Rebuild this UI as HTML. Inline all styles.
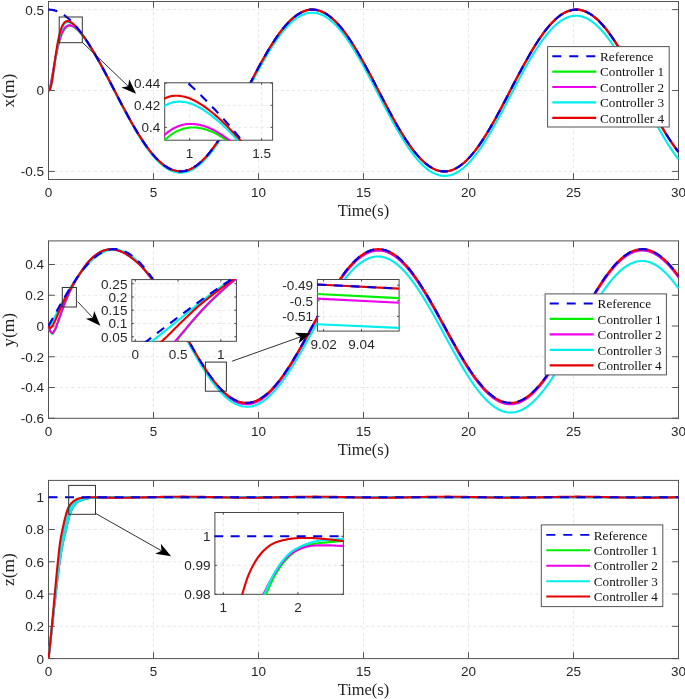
<!DOCTYPE html>
<html><head><meta charset="utf-8"><title>Tracking</title>
<style>
html,body{margin:0;padding:0;background:#fff;}
svg{display:block;}
.tk{font-family:"Liberation Sans",Arial,sans-serif;fill:#262626;}
.ax{font-family:"Liberation Serif","Times New Roman",serif;font-size:16.4px;fill:#222;}
.lg{font-family:"Liberation Serif","Times New Roman",serif;font-size:13.2px;fill:#111;}
</style></head><body>
<svg width="685" height="699" viewBox="0 0 685 699">
<rect width="685" height="699" fill="#fff"/>
<clipPath id="c1"><rect x="48.00" y="1.00" width="631.00" height="179.00"/></clipPath>
<line x1="153.50" y1="179.50" x2="153.50" y2="1.50" stroke="#e2e2e2" stroke-width="0.8" stroke-dasharray="3.2 2.46"/>
<line x1="258.50" y1="179.50" x2="258.50" y2="1.50" stroke="#e2e2e2" stroke-width="0.8" stroke-dasharray="3.2 2.46"/>
<line x1="363.50" y1="179.50" x2="363.50" y2="1.50" stroke="#e2e2e2" stroke-width="0.8" stroke-dasharray="3.2 2.46"/>
<line x1="468.50" y1="179.50" x2="468.50" y2="1.50" stroke="#e2e2e2" stroke-width="0.8" stroke-dasharray="3.2 2.46"/>
<line x1="573.50" y1="179.50" x2="573.50" y2="1.50" stroke="#e2e2e2" stroke-width="0.8" stroke-dasharray="3.2 2.46"/>
<line x1="48.50" y1="171.40" x2="678.50" y2="171.40" stroke="#e2e2e2" stroke-width="0.8" stroke-dasharray="3.2 2.46"/>
<line x1="48.50" y1="90.50" x2="678.50" y2="90.50" stroke="#e2e2e2" stroke-width="0.8" stroke-dasharray="3.2 2.46"/>
<line x1="48.50" y1="9.60" x2="678.50" y2="9.60" stroke="#e2e2e2" stroke-width="0.8" stroke-dasharray="3.2 2.46"/>
<rect x="48.50" y="1.50" width="630.00" height="178.00" fill="none" stroke="#545454" stroke-width="1.00"/>
<line x1="48.50" y1="179.50" x2="48.50" y2="173.20" stroke="#545454" stroke-width="1"/>
<line x1="48.50" y1="1.50" x2="48.50" y2="7.80" stroke="#545454" stroke-width="1"/>
<line x1="153.50" y1="179.50" x2="153.50" y2="173.20" stroke="#545454" stroke-width="1"/>
<line x1="153.50" y1="1.50" x2="153.50" y2="7.80" stroke="#545454" stroke-width="1"/>
<line x1="258.50" y1="179.50" x2="258.50" y2="173.20" stroke="#545454" stroke-width="1"/>
<line x1="258.50" y1="1.50" x2="258.50" y2="7.80" stroke="#545454" stroke-width="1"/>
<line x1="363.50" y1="179.50" x2="363.50" y2="173.20" stroke="#545454" stroke-width="1"/>
<line x1="363.50" y1="1.50" x2="363.50" y2="7.80" stroke="#545454" stroke-width="1"/>
<line x1="468.50" y1="179.50" x2="468.50" y2="173.20" stroke="#545454" stroke-width="1"/>
<line x1="468.50" y1="1.50" x2="468.50" y2="7.80" stroke="#545454" stroke-width="1"/>
<line x1="573.50" y1="179.50" x2="573.50" y2="173.20" stroke="#545454" stroke-width="1"/>
<line x1="573.50" y1="1.50" x2="573.50" y2="7.80" stroke="#545454" stroke-width="1"/>
<line x1="678.50" y1="179.50" x2="678.50" y2="173.20" stroke="#545454" stroke-width="1"/>
<line x1="678.50" y1="1.50" x2="678.50" y2="7.80" stroke="#545454" stroke-width="1"/>
<line x1="48.50" y1="171.40" x2="54.80" y2="171.40" stroke="#545454" stroke-width="1"/>
<line x1="678.50" y1="171.40" x2="672.20" y2="171.40" stroke="#545454" stroke-width="1"/>
<line x1="48.50" y1="90.50" x2="54.80" y2="90.50" stroke="#545454" stroke-width="1"/>
<line x1="678.50" y1="90.50" x2="672.20" y2="90.50" stroke="#545454" stroke-width="1"/>
<line x1="48.50" y1="9.60" x2="54.80" y2="9.60" stroke="#545454" stroke-width="1"/>
<line x1="678.50" y1="9.60" x2="672.20" y2="9.60" stroke="#545454" stroke-width="1"/>
<path d="M48.50,90.50 L49.02,90.09 L49.55,88.97 L50.08,87.29 L50.60,85.18 L51.12,82.74 L51.65,80.06 L52.17,77.21 L52.70,74.27 L53.23,71.27 L53.75,68.27 L54.27,65.29 L54.80,62.37 L55.33,59.53 L55.85,56.78 L56.38,54.14 L56.90,51.62 L57.42,49.23 L57.95,46.96 L58.48,44.83 L59.00,42.83 L59.52,40.96 L60.05,39.22 L60.58,37.61 L61.10,36.13 L61.62,34.76 L62.15,33.52 L62.67,32.38 L63.20,31.36 L63.73,30.43 L64.25,29.61 L64.78,28.88 L65.30,28.24 L65.83,27.68 L66.35,27.21 L66.88,26.81 L67.40,26.48 L67.92,26.22 L68.45,26.02 L68.97,25.89 L69.50,25.81 L70.03,25.79 L70.55,25.82 L71.08,25.89 L71.60,26.01 L72.12,26.17 L72.65,26.38 L73.17,26.62 L73.70,26.89 L74.22,27.20 L74.75,27.55 L75.28,27.92 L75.80,28.32 L76.33,28.75 L76.85,29.20 L77.38,29.68 L77.90,30.18 L78.42,30.70 L78.95,31.25 L79.47,31.81 L80.00,32.39 L80.53,32.99 L81.05,33.61 L81.58,34.24 L82.10,34.89 L82.62,35.55 L83.15,36.23 L83.68,36.92 L84.20,37.63 L84.72,38.35 L85.25,39.08 L85.78,39.82 L86.30,40.57 L86.83,41.34 L87.35,42.11 L87.88,42.90 L88.40,43.69 L88.93,44.49 L89.45,45.31 L89.97,46.13 L90.50,46.96 L91.03,47.80 L91.55,48.65 L92.08,49.50 L92.60,50.36 L93.12,51.23 L93.65,52.11 L94.18,52.99 L94.70,53.88 L95.22,54.78 L95.75,55.68 L96.28,56.59 L96.80,57.51 L97.33,58.43 L97.85,59.36 L98.38,60.29 L98.90,61.22 L99.43,62.16 L99.95,63.11 L100.47,64.06 L101.00,65.02 L101.53,65.98 L102.05,66.94 L102.58,67.91 L103.10,68.88 L103.62,69.85 L104.15,70.83 L104.68,71.81 L105.20,72.79 L105.72,73.78 L106.25,74.77 L106.78,75.76 L107.30,76.76 L107.83,77.75 L108.35,78.75 L108.88,79.75 L109.40,80.76 L109.93,81.76 L110.45,82.77 L110.97,83.77 L111.50,84.78 L113.60,88.82 L115.70,92.86 L117.80,96.90 L119.90,100.92 L122.00,104.92 L124.10,108.88 L126.20,112.80 L128.30,116.65 L130.40,120.45 L132.50,124.17 L134.60,127.80 L136.70,131.34 L138.80,134.78 L140.90,138.11 L143.00,141.32 L145.10,144.40 L147.20,147.35 L149.30,150.16 L151.40,152.81 L153.50,155.31 L155.60,157.65 L157.70,159.82 L159.80,161.82 L161.90,163.64 L164.00,165.28 L166.10,166.73 L168.20,167.98 L170.30,169.05 L172.40,169.92 L174.50,170.59 L176.60,171.06 L178.70,171.33 L180.80,171.40 L182.90,171.26 L185.00,170.93 L187.10,170.39 L189.20,169.65 L191.30,168.71 L193.40,167.58 L195.50,166.26 L197.60,164.75 L199.70,163.05 L201.80,161.17 L203.90,159.11 L206.00,156.88 L208.10,154.49 L210.20,151.94 L212.30,149.23 L214.40,146.37 L216.50,143.38 L218.60,140.25 L220.70,137.00 L222.80,133.64 L224.90,130.16 L227.00,126.59 L229.10,122.92 L231.20,119.18 L233.30,115.36 L235.40,111.48 L237.50,107.55 L239.60,103.58 L241.70,99.57 L243.80,95.54 L245.90,91.50 L248.00,87.46 L250.10,83.42 L252.20,79.40 L254.30,75.41 L256.40,71.46 L258.50,67.55 L260.60,63.70 L262.70,59.92 L264.80,56.22 L266.90,52.60 L269.00,49.07 L271.10,45.65 L273.20,42.34 L275.30,39.15 L277.40,36.09 L279.50,33.17 L281.60,30.39 L283.70,27.76 L285.80,25.28 L287.90,22.97 L290.00,20.83 L292.10,18.86 L294.20,17.07 L296.30,15.47 L298.40,14.05 L300.50,12.82 L302.60,11.79 L304.70,10.95 L306.80,10.32 L308.90,9.88 L311.00,9.64 L313.10,9.61 L315.20,9.78 L317.30,10.15 L319.40,10.72 L321.50,11.49 L323.60,12.46 L325.70,13.63 L327.80,14.98 L329.90,16.53 L332.00,18.26 L334.10,20.17 L336.20,22.25 L338.30,24.51 L340.40,26.93 L342.50,29.51 L344.60,32.24 L346.70,35.12 L348.80,38.14 L350.90,41.28 L353.00,44.55 L355.10,47.94 L357.20,51.43 L359.30,55.02 L361.40,58.70 L363.50,62.46 L365.60,66.28 L367.70,70.17 L369.80,74.11 L371.90,78.09 L374.00,82.10 L376.10,86.14 L378.20,90.18 L380.30,94.22 L382.40,98.26 L384.50,102.27 L386.60,106.26 L388.70,110.20 L390.80,114.10 L392.90,117.94 L395.00,121.71 L397.10,125.40 L399.20,129.00 L401.30,132.51 L403.40,135.91 L405.50,139.20 L407.60,142.37 L409.70,145.41 L411.80,148.31 L413.90,151.07 L416.00,153.67 L418.10,156.12 L420.20,158.40 L422.30,160.51 L424.40,162.45 L426.50,164.21 L428.60,165.78 L430.70,167.17 L432.80,168.37 L434.90,169.36 L437.00,170.17 L439.10,170.77 L441.20,171.17 L443.30,171.38 L445.40,171.37 L447.50,171.17 L449.60,170.77 L451.70,170.16 L453.80,169.36 L455.90,168.36 L458.00,167.16 L460.10,165.77 L462.20,164.20 L464.30,162.44 L466.40,160.50 L468.50,158.38 L470.60,156.10 L472.70,153.65 L474.80,151.04 L476.90,148.28 L479.00,145.38 L481.10,142.34 L483.20,139.17 L485.30,135.88 L487.40,132.48 L489.50,128.97 L491.60,125.37 L493.70,121.67 L495.80,117.90 L497.90,114.07 L500.00,110.17 L502.10,106.22 L504.20,102.24 L506.30,98.22 L508.40,94.19 L510.50,90.14 L512.60,86.10 L514.70,82.07 L516.80,78.06 L518.90,74.08 L521.00,70.14 L523.10,66.25 L525.20,62.42 L527.30,58.67 L529.40,54.99 L531.50,51.40 L533.60,47.91 L535.70,44.53 L537.80,41.26 L539.90,38.11 L542.00,35.09 L544.10,32.22 L546.20,29.49 L548.30,26.91 L550.40,24.49 L552.50,22.23 L554.60,20.15 L556.70,18.24 L558.80,16.51 L560.90,14.97 L563.00,13.61 L565.10,12.45 L567.20,11.49 L569.30,10.72 L571.40,10.15 L573.50,9.78 L575.60,9.61 L577.70,9.65 L579.80,9.88 L581.90,10.32 L584.00,10.96 L586.10,11.80 L588.20,12.83 L590.30,14.06 L592.40,15.48 L594.50,17.09 L596.60,18.88 L598.70,20.85 L600.80,22.99 L602.90,25.30 L605.00,27.78 L607.10,30.41 L609.20,33.19 L611.30,36.12 L613.40,39.18 L615.50,42.37 L617.60,45.68 L619.70,49.10 L621.80,52.63 L623.90,56.25 L626.00,59.95 L628.10,63.74 L630.20,67.59 L632.30,71.49 L634.40,75.45 L636.50,79.44 L638.60,83.46 L640.70,87.49 L642.80,91.54 L644.90,95.58 L647.00,99.61 L649.10,103.62 L651.20,107.59 L653.30,111.52 L655.40,115.40 L657.50,119.21 L659.60,122.96 L661.70,126.62 L663.80,130.19 L665.90,133.67 L668.00,137.03 L670.10,140.28 L672.20,143.41 L674.30,146.40 L676.40,149.25 L678.50,151.96" fill="none" stroke="#00ee00" stroke-width="2.10" stroke-linejoin="round" clip-path="url(#c1)"/>
<path d="M48.50,90.50 L49.02,90.07 L49.55,88.90 L50.08,87.14 L50.60,84.93 L51.12,82.39 L51.65,79.61 L52.17,76.66 L52.70,73.62 L53.23,70.53 L53.75,67.45 L54.27,64.40 L54.80,61.42 L55.33,58.52 L55.85,55.73 L56.38,53.06 L56.90,50.52 L57.42,48.10 L57.95,45.83 L58.48,43.69 L59.00,41.70 L59.52,39.84 L60.05,38.12 L60.58,36.53 L61.10,35.06 L61.62,33.73 L62.15,32.51 L62.67,31.41 L63.20,30.41 L63.73,29.52 L64.25,28.73 L64.78,28.04 L65.30,27.43 L65.83,26.91 L66.35,26.47 L66.88,26.11 L67.40,25.81 L67.92,25.59 L68.45,25.42 L68.97,25.32 L69.50,25.27 L70.03,25.28 L70.55,25.34 L71.08,25.44 L71.60,25.59 L72.12,25.77 L72.65,26.00 L73.17,26.26 L73.70,26.56 L74.22,26.89 L74.75,27.26 L75.28,27.65 L75.80,28.07 L76.33,28.51 L76.85,28.98 L77.38,29.47 L77.90,29.99 L78.42,30.52 L78.95,31.08 L79.47,31.65 L80.00,32.25 L80.53,32.86 L81.05,33.48 L81.58,34.13 L82.10,34.78 L82.62,35.45 L83.15,36.14 L83.68,36.84 L84.20,37.55 L84.72,38.27 L85.25,39.01 L85.78,39.76 L86.30,40.51 L86.83,41.28 L87.35,42.06 L87.88,42.85 L88.40,43.65 L88.93,44.46 L89.45,45.27 L89.97,46.10 L90.50,46.93 L91.03,47.77 L91.55,48.62 L92.08,49.48 L92.60,50.34 L93.12,51.21 L93.65,52.09 L94.18,52.98 L94.70,53.87 L95.22,54.77 L95.75,55.67 L96.28,56.58 L96.80,57.50 L97.33,58.42 L97.85,59.35 L98.38,60.28 L98.90,61.21 L99.43,62.16 L99.95,63.10 L100.47,64.05 L101.00,65.01 L101.53,65.97 L102.05,66.93 L102.58,67.90 L103.10,68.87 L103.62,69.85 L104.15,70.83 L104.68,71.81 L105.20,72.79 L105.72,73.78 L106.25,74.77 L106.78,75.76 L107.30,76.76 L107.83,77.75 L108.35,78.75 L108.88,79.75 L109.40,80.76 L109.93,81.76 L110.45,82.77 L110.97,83.77 L111.50,84.78 L113.60,88.82 L115.70,92.86 L117.80,96.90 L119.90,100.92 L122.00,104.92 L124.10,108.88 L126.20,112.80 L128.30,116.65 L130.40,120.45 L132.50,124.17 L134.60,127.80 L136.70,131.34 L138.80,134.78 L140.90,138.11 L143.00,141.32 L145.10,144.40 L147.20,147.35 L149.30,150.16 L151.40,152.81 L153.50,155.31 L155.60,157.65 L157.70,159.82 L159.80,161.82 L161.90,163.64 L164.00,165.28 L166.10,166.73 L168.20,167.98 L170.30,169.05 L172.40,169.92 L174.50,170.59 L176.60,171.06 L178.70,171.33 L180.80,171.40 L182.90,171.26 L185.00,170.93 L187.10,170.39 L189.20,169.65 L191.30,168.71 L193.40,167.58 L195.50,166.26 L197.60,164.75 L199.70,163.05 L201.80,161.17 L203.90,159.11 L206.00,156.88 L208.10,154.49 L210.20,151.94 L212.30,149.23 L214.40,146.37 L216.50,143.38 L218.60,140.25 L220.70,137.00 L222.80,133.64 L224.90,130.16 L227.00,126.59 L229.10,122.92 L231.20,119.18 L233.30,115.36 L235.40,111.48 L237.50,107.55 L239.60,103.58 L241.70,99.57 L243.80,95.54 L245.90,91.50 L248.00,87.46 L250.10,83.42 L252.20,79.40 L254.30,75.41 L256.40,71.46 L258.50,67.55 L260.60,63.70 L262.70,59.92 L264.80,56.22 L266.90,52.60 L269.00,49.07 L271.10,45.65 L273.20,42.34 L275.30,39.15 L277.40,36.09 L279.50,33.17 L281.60,30.39 L283.70,27.76 L285.80,25.28 L287.90,22.97 L290.00,20.83 L292.10,18.86 L294.20,17.07 L296.30,15.47 L298.40,14.05 L300.50,12.82 L302.60,11.79 L304.70,10.95 L306.80,10.32 L308.90,9.88 L311.00,9.64 L313.10,9.61 L315.20,9.78 L317.30,10.15 L319.40,10.72 L321.50,11.49 L323.60,12.46 L325.70,13.63 L327.80,14.98 L329.90,16.53 L332.00,18.26 L334.10,20.17 L336.20,22.25 L338.30,24.51 L340.40,26.93 L342.50,29.51 L344.60,32.24 L346.70,35.12 L348.80,38.14 L350.90,41.28 L353.00,44.55 L355.10,47.94 L357.20,51.43 L359.30,55.02 L361.40,58.70 L363.50,62.46 L365.60,66.28 L367.70,70.17 L369.80,74.11 L371.90,78.09 L374.00,82.10 L376.10,86.14 L378.20,90.18 L380.30,94.22 L382.40,98.26 L384.50,102.27 L386.60,106.26 L388.70,110.20 L390.80,114.10 L392.90,117.94 L395.00,121.71 L397.10,125.40 L399.20,129.00 L401.30,132.51 L403.40,135.91 L405.50,139.20 L407.60,142.37 L409.70,145.41 L411.80,148.31 L413.90,151.07 L416.00,153.67 L418.10,156.12 L420.20,158.40 L422.30,160.51 L424.40,162.45 L426.50,164.21 L428.60,165.78 L430.70,167.17 L432.80,168.37 L434.90,169.36 L437.00,170.17 L439.10,170.77 L441.20,171.17 L443.30,171.38 L445.40,171.37 L447.50,171.17 L449.60,170.77 L451.70,170.16 L453.80,169.36 L455.90,168.36 L458.00,167.16 L460.10,165.77 L462.20,164.20 L464.30,162.44 L466.40,160.50 L468.50,158.38 L470.60,156.10 L472.70,153.65 L474.80,151.04 L476.90,148.28 L479.00,145.38 L481.10,142.34 L483.20,139.17 L485.30,135.88 L487.40,132.48 L489.50,128.97 L491.60,125.37 L493.70,121.67 L495.80,117.90 L497.90,114.07 L500.00,110.17 L502.10,106.22 L504.20,102.24 L506.30,98.22 L508.40,94.19 L510.50,90.14 L512.60,86.10 L514.70,82.07 L516.80,78.06 L518.90,74.08 L521.00,70.14 L523.10,66.25 L525.20,62.42 L527.30,58.67 L529.40,54.99 L531.50,51.40 L533.60,47.91 L535.70,44.53 L537.80,41.26 L539.90,38.11 L542.00,35.09 L544.10,32.22 L546.20,29.49 L548.30,26.91 L550.40,24.49 L552.50,22.23 L554.60,20.15 L556.70,18.24 L558.80,16.51 L560.90,14.97 L563.00,13.61 L565.10,12.45 L567.20,11.49 L569.30,10.72 L571.40,10.15 L573.50,9.78 L575.60,9.61 L577.70,9.65 L579.80,9.88 L581.90,10.32 L584.00,10.96 L586.10,11.80 L588.20,12.83 L590.30,14.06 L592.40,15.48 L594.50,17.09 L596.60,18.88 L598.70,20.85 L600.80,22.99 L602.90,25.30 L605.00,27.78 L607.10,30.41 L609.20,33.19 L611.30,36.12 L613.40,39.18 L615.50,42.37 L617.60,45.68 L619.70,49.10 L621.80,52.63 L623.90,56.25 L626.00,59.95 L628.10,63.74 L630.20,67.59 L632.30,71.49 L634.40,75.45 L636.50,79.44 L638.60,83.46 L640.70,87.49 L642.80,91.54 L644.90,95.58 L647.00,99.61 L649.10,103.62 L651.20,107.59 L653.30,111.52 L655.40,115.40 L657.50,119.21 L659.60,122.96 L661.70,126.62 L663.80,130.19 L665.90,133.67 L668.00,137.03 L670.10,140.28 L672.20,143.41 L674.30,146.40 L676.40,149.25 L678.50,151.96" fill="none" stroke="#ee00ee" stroke-width="2.10" stroke-linejoin="round" clip-path="url(#c1)"/>
<path d="M48.50,90.50 L49.02,90.45 L49.55,90.10 L50.08,89.28 L50.60,87.91 L51.12,86.01 L51.65,83.62 L52.17,80.82 L52.70,77.68 L53.23,74.30 L53.75,70.75 L54.27,67.12 L54.80,63.47 L55.33,59.86 L55.85,56.33 L56.38,52.93 L56.90,49.68 L57.42,46.61 L57.95,43.73 L58.48,41.05 L59.00,38.58 L59.52,36.31 L60.05,34.24 L60.58,32.38 L61.10,30.70 L61.62,29.21 L62.15,27.89 L62.67,26.73 L63.20,25.73 L63.73,24.87 L64.25,24.14 L64.78,23.54 L65.30,23.05 L65.83,22.66 L66.35,22.37 L66.88,22.17 L67.40,22.05 L67.92,22.00 L68.45,22.03 L68.97,22.11 L69.50,22.25 L70.03,22.44 L70.55,22.67 L71.08,22.95 L71.60,23.27 L72.12,23.63 L72.65,24.02 L73.17,24.44 L73.70,24.88 L74.22,25.36 L74.75,25.85 L75.28,26.37 L75.80,26.91 L76.33,27.47 L76.85,28.05 L77.38,28.64 L77.90,29.25 L78.42,29.87 L78.95,30.51 L79.47,31.17 L80.00,31.83 L80.53,32.51 L81.05,33.20 L81.58,33.90 L82.10,34.61 L82.62,35.34 L83.15,36.07 L83.68,36.81 L84.20,37.57 L84.72,38.33 L85.25,39.10 L85.78,39.88 L86.30,40.67 L86.83,41.47 L87.35,42.27 L87.88,43.09 L88.40,43.91 L88.93,44.74 L89.45,45.57 L89.97,46.42 L90.50,47.27 L91.03,48.13 L91.55,48.99 L92.08,49.86 L92.60,50.74 L93.12,51.63 L93.65,52.52 L94.18,53.42 L94.70,54.32 L95.22,55.23 L95.75,56.14 L96.28,57.06 L96.80,57.99 L97.33,58.92 L97.85,59.85 L98.38,60.79 L98.90,61.74 L99.43,62.69 L99.95,63.64 L100.47,64.60 L101.00,65.56 L101.53,66.53 L102.05,67.50 L102.58,68.47 L103.10,69.45 L103.62,70.43 L104.15,71.41 L104.68,72.40 L105.20,73.39 L105.72,74.38 L106.25,75.38 L106.78,76.38 L107.30,77.38 L107.83,78.38 L108.35,79.38 L108.88,80.39 L109.40,81.40 L109.93,82.41 L110.45,83.42 L110.97,84.43 L111.50,85.44 L113.60,89.50 L115.70,93.56 L117.80,97.62 L119.90,101.66 L122.00,105.67 L124.10,109.65 L126.20,113.58 L128.30,117.46 L130.40,121.27 L132.50,125.01 L134.60,128.66 L136.70,132.22 L138.80,135.68 L140.90,139.03 L143.00,142.25 L145.10,145.35 L147.20,148.32 L149.30,151.14 L151.40,153.82 L153.50,156.34 L155.60,158.70 L157.70,160.89 L159.80,162.91 L161.90,164.75 L164.00,166.40 L166.10,167.87 L168.20,169.15 L170.30,170.24 L172.40,171.13 L174.50,171.82 L176.60,172.31 L178.70,172.61 L180.80,172.70 L182.90,172.58 L185.00,172.27 L187.10,171.76 L189.20,171.04 L191.30,170.13 L193.40,169.03 L195.50,167.73 L197.60,166.24 L199.70,164.57 L201.80,162.72 L203.90,160.69 L206.00,158.49 L208.10,156.12 L210.20,153.59 L212.30,150.91 L214.40,148.09 L216.50,145.12 L218.60,142.02 L220.70,138.80 L222.80,135.46 L224.90,132.02 L227.00,128.48 L229.10,124.84 L231.20,121.13 L233.30,117.34 L235.40,113.49 L237.50,109.59 L239.60,105.65 L241.70,101.67 L243.80,97.67 L245.90,93.66 L248.00,89.64 L250.10,85.64 L252.20,81.65 L254.30,77.69 L256.40,73.77 L258.50,69.89 L260.60,66.07 L262.70,62.32 L264.80,58.65 L266.90,55.06 L269.00,51.56 L271.10,48.17 L273.20,44.89 L275.30,41.73 L277.40,38.70 L279.50,35.81 L281.60,33.06 L283.70,30.45 L285.80,28.01 L287.90,25.73 L290.00,23.61 L292.10,21.67 L294.20,19.91 L296.30,18.34 L298.40,16.95 L300.50,15.75 L302.60,14.74 L304.70,13.93 L306.80,13.32 L308.90,12.91 L311.00,12.70 L313.10,12.69 L315.20,12.89 L317.30,13.28 L319.40,13.88 L321.50,14.68 L323.60,15.67 L325.70,16.86 L327.80,18.24 L329.90,19.81 L332.00,21.56 L334.10,23.49 L336.20,25.60 L338.30,27.88 L340.40,30.33 L342.50,32.93 L344.60,35.69 L346.70,38.59 L348.80,41.63 L350.90,44.80 L353.00,48.09 L355.10,51.50 L357.20,55.02 L359.30,58.63 L361.40,62.33 L363.50,66.11 L365.60,69.96 L367.70,73.87 L369.80,77.83 L371.90,81.83 L374.00,85.87 L376.10,89.92 L378.20,93.99 L380.30,98.05 L382.40,102.11 L384.50,106.15 L386.60,110.15 L388.70,114.12 L390.80,118.04 L392.90,121.90 L395.00,125.69 L397.10,129.41 L399.20,133.03 L401.30,136.56 L403.40,139.99 L405.50,143.30 L407.60,146.49 L409.70,149.55 L411.80,152.48 L413.90,155.25 L416.00,157.88 L418.10,160.35 L420.20,162.66 L422.30,164.79 L424.40,166.76 L426.50,168.54 L428.60,170.14 L430.70,171.55 L432.80,172.76 L434.90,173.79 L437.00,174.61 L439.10,175.24 L441.20,175.67 L443.30,175.89 L445.40,175.92 L447.50,175.74 L449.60,175.36 L451.70,174.78 L453.80,174.00 L455.90,173.02 L458.00,171.85 L460.10,170.49 L462.20,168.94 L464.30,167.20 L466.40,165.29 L468.50,163.20 L470.60,160.94 L472.70,158.52 L474.80,155.94 L476.90,153.21 L479.00,150.33 L481.10,147.32 L483.20,144.18 L485.30,140.91 L487.40,137.53 L489.50,134.05 L491.60,130.47 L493.70,126.81 L495.80,123.06 L497.90,119.25 L500.00,115.38 L502.10,111.46 L504.20,107.50 L506.30,103.51 L508.40,99.51 L510.50,95.49 L512.60,91.47 L514.70,87.47 L516.80,83.48 L518.90,79.53 L521.00,75.62 L523.10,71.76 L525.20,67.96 L527.30,64.23 L529.40,60.58 L531.50,57.01 L533.60,53.55 L535.70,50.19 L537.80,46.95 L539.90,43.83 L542.00,40.84 L544.10,37.99 L546.20,35.28 L548.30,32.73 L550.40,30.33 L552.50,28.10 L554.60,26.05 L556.70,24.16 L558.80,22.46 L560.90,20.94 L563.00,19.61 L565.10,18.48 L567.20,17.54 L569.30,16.79 L571.40,16.25 L573.50,15.90 L575.60,15.76 L577.70,15.82 L579.80,16.08 L581.90,16.54 L584.00,17.21 L586.10,18.07 L588.20,19.13 L590.30,20.38 L592.40,21.82 L594.50,23.45 L596.60,25.27 L598.70,27.26 L600.80,29.43 L602.90,31.76 L605.00,34.26 L607.10,36.92 L609.20,39.73 L611.30,42.67 L613.40,45.76 L615.50,48.97 L617.60,52.31 L619.70,55.75 L621.80,59.30 L623.90,62.94 L626.00,66.67 L628.10,70.48 L630.20,74.35 L632.30,78.28 L634.40,82.26 L636.50,86.27 L638.60,90.31 L640.70,94.37 L642.80,98.44 L644.90,102.50 L647.00,106.56 L649.10,110.58 L651.20,114.58 L653.30,118.53 L655.40,122.43 L657.50,126.27 L659.60,130.04 L661.70,133.72 L663.80,137.32 L665.90,140.82 L668.00,144.20 L670.10,147.48 L672.20,150.62 L674.30,153.64 L676.40,156.51 L678.50,159.24" fill="none" stroke="#00eeee" stroke-width="2.10" stroke-linejoin="round" clip-path="url(#c1)"/>
<path d="M48.50,90.50 L49.02,90.44 L49.55,90.04 L50.08,89.12 L50.60,87.62 L51.12,85.54 L51.65,82.95 L52.17,79.92 L52.70,76.57 L53.23,72.97 L53.75,69.23 L54.27,65.42 L54.80,61.62 L55.33,57.89 L55.85,54.27 L56.38,50.80 L56.90,47.52 L57.42,44.43 L57.95,41.55 L58.48,38.90 L59.00,36.46 L59.52,34.25 L60.05,32.25 L60.58,30.45 L61.10,28.86 L61.62,27.45 L62.15,26.21 L62.67,25.14 L63.20,24.23 L63.73,23.45 L64.25,22.81 L64.78,22.28 L65.30,21.87 L65.83,21.56 L66.35,21.34 L66.88,21.20 L67.40,21.14 L67.92,21.15 L68.45,21.22 L68.97,21.35 L69.50,21.53 L70.03,21.76 L70.55,22.04 L71.08,22.35 L71.60,22.69 L72.12,23.08 L72.65,23.49 L73.17,23.93 L73.70,24.39 L74.22,24.88 L74.75,25.39 L75.28,25.92 L75.80,26.47 L76.33,27.03 L76.85,27.62 L77.38,28.22 L77.90,28.83 L78.42,29.46 L78.95,30.10 L79.47,30.75 L80.00,31.42 L80.53,32.10 L81.05,32.79 L81.58,33.49 L82.10,34.20 L82.62,34.92 L83.15,35.65 L83.68,36.39 L84.20,37.14 L84.72,37.90 L85.25,38.67 L85.78,39.44 L86.30,40.23 L86.83,41.02 L87.35,41.82 L87.88,42.63 L88.40,43.45 L88.93,44.28 L89.45,45.11 L89.97,45.95 L90.50,46.79 L91.03,47.65 L91.55,48.51 L92.08,49.38 L92.60,50.25 L93.12,51.13 L93.65,52.02 L94.18,52.91 L94.70,53.81 L95.22,54.71 L95.75,55.62 L96.28,56.53 L96.80,57.45 L97.33,58.38 L97.85,59.31 L98.38,60.25 L98.90,61.19 L99.43,62.13 L99.95,63.08 L100.47,64.03 L101.00,64.99 L101.53,65.95 L102.05,66.92 L102.58,67.89 L103.10,68.86 L103.62,69.84 L104.15,70.81 L104.68,71.80 L105.20,72.78 L105.72,73.77 L106.25,74.76 L106.78,75.75 L107.30,76.75 L107.83,77.75 L108.35,78.75 L108.88,79.75 L109.40,80.75 L109.93,81.76 L110.45,82.76 L110.97,83.77 L111.50,84.78 L113.60,88.82 L115.70,92.86 L117.80,96.90 L119.90,100.92 L122.00,104.92 L124.10,108.88 L126.20,112.80 L128.30,116.65 L130.40,120.45 L132.50,124.17 L134.60,127.80 L136.70,131.34 L138.80,134.78 L140.90,138.11 L143.00,141.32 L145.10,144.40 L147.20,147.35 L149.30,150.16 L151.40,152.81 L153.50,155.31 L155.60,157.65 L157.70,159.82 L159.80,161.82 L161.90,163.64 L164.00,165.28 L166.10,166.73 L168.20,167.98 L170.30,169.05 L172.40,169.92 L174.50,170.59 L176.60,171.06 L178.70,171.33 L180.80,171.40 L182.90,171.26 L185.00,170.93 L187.10,170.39 L189.20,169.65 L191.30,168.71 L193.40,167.58 L195.50,166.26 L197.60,164.75 L199.70,163.05 L201.80,161.17 L203.90,159.11 L206.00,156.88 L208.10,154.49 L210.20,151.94 L212.30,149.23 L214.40,146.37 L216.50,143.38 L218.60,140.25 L220.70,137.00 L222.80,133.64 L224.90,130.16 L227.00,126.59 L229.10,122.92 L231.20,119.18 L233.30,115.36 L235.40,111.48 L237.50,107.55 L239.60,103.58 L241.70,99.57 L243.80,95.54 L245.90,91.50 L248.00,87.46 L250.10,83.42 L252.20,79.40 L254.30,75.41 L256.40,71.46 L258.50,67.55 L260.60,63.70 L262.70,59.92 L264.80,56.22 L266.90,52.60 L269.00,49.07 L271.10,45.65 L273.20,42.34 L275.30,39.15 L277.40,36.09 L279.50,33.17 L281.60,30.39 L283.70,27.76 L285.80,25.28 L287.90,22.97 L290.00,20.83 L292.10,18.86 L294.20,17.07 L296.30,15.47 L298.40,14.05 L300.50,12.82 L302.60,11.79 L304.70,10.95 L306.80,10.32 L308.90,9.88 L311.00,9.64 L313.10,9.61 L315.20,9.78 L317.30,10.15 L319.40,10.72 L321.50,11.49 L323.60,12.46 L325.70,13.63 L327.80,14.98 L329.90,16.53 L332.00,18.26 L334.10,20.17 L336.20,22.25 L338.30,24.51 L340.40,26.93 L342.50,29.51 L344.60,32.24 L346.70,35.12 L348.80,38.14 L350.90,41.28 L353.00,44.55 L355.10,47.94 L357.20,51.43 L359.30,55.02 L361.40,58.70 L363.50,62.46 L365.60,66.28 L367.70,70.17 L369.80,74.11 L371.90,78.09 L374.00,82.10 L376.10,86.14 L378.20,90.18 L380.30,94.22 L382.40,98.26 L384.50,102.27 L386.60,106.26 L388.70,110.20 L390.80,114.10 L392.90,117.94 L395.00,121.71 L397.10,125.40 L399.20,129.00 L401.30,132.51 L403.40,135.91 L405.50,139.20 L407.60,142.37 L409.70,145.41 L411.80,148.31 L413.90,151.07 L416.00,153.67 L418.10,156.12 L420.20,158.40 L422.30,160.51 L424.40,162.45 L426.50,164.21 L428.60,165.78 L430.70,167.17 L432.80,168.37 L434.90,169.36 L437.00,170.17 L439.10,170.77 L441.20,171.17 L443.30,171.38 L445.40,171.37 L447.50,171.17 L449.60,170.77 L451.70,170.16 L453.80,169.36 L455.90,168.36 L458.00,167.16 L460.10,165.77 L462.20,164.20 L464.30,162.44 L466.40,160.50 L468.50,158.38 L470.60,156.10 L472.70,153.65 L474.80,151.04 L476.90,148.28 L479.00,145.38 L481.10,142.34 L483.20,139.17 L485.30,135.88 L487.40,132.48 L489.50,128.97 L491.60,125.37 L493.70,121.67 L495.80,117.90 L497.90,114.07 L500.00,110.17 L502.10,106.22 L504.20,102.24 L506.30,98.22 L508.40,94.19 L510.50,90.14 L512.60,86.10 L514.70,82.07 L516.80,78.06 L518.90,74.08 L521.00,70.14 L523.10,66.25 L525.20,62.42 L527.30,58.67 L529.40,54.99 L531.50,51.40 L533.60,47.91 L535.70,44.53 L537.80,41.26 L539.90,38.11 L542.00,35.09 L544.10,32.22 L546.20,29.49 L548.30,26.91 L550.40,24.49 L552.50,22.23 L554.60,20.15 L556.70,18.24 L558.80,16.51 L560.90,14.97 L563.00,13.61 L565.10,12.45 L567.20,11.49 L569.30,10.72 L571.40,10.15 L573.50,9.78 L575.60,9.61 L577.70,9.65 L579.80,9.88 L581.90,10.32 L584.00,10.96 L586.10,11.80 L588.20,12.83 L590.30,14.06 L592.40,15.48 L594.50,17.09 L596.60,18.88 L598.70,20.85 L600.80,22.99 L602.90,25.30 L605.00,27.78 L607.10,30.41 L609.20,33.19 L611.30,36.12 L613.40,39.18 L615.50,42.37 L617.60,45.68 L619.70,49.10 L621.80,52.63 L623.90,56.25 L626.00,59.95 L628.10,63.74 L630.20,67.59 L632.30,71.49 L634.40,75.45 L636.50,79.44 L638.60,83.46 L640.70,87.49 L642.80,91.54 L644.90,95.58 L647.00,99.61 L649.10,103.62 L651.20,107.59 L653.30,111.52 L655.40,115.40 L657.50,119.21 L659.60,122.96 L661.70,126.62 L663.80,130.19 L665.90,133.67 L668.00,137.03 L670.10,140.28 L672.20,143.41 L674.30,146.40 L676.40,149.25 L678.50,151.96" fill="none" stroke="#e60000" stroke-width="2.10" stroke-linejoin="round" clip-path="url(#c1)"/>
<path d="M48.50,9.60 L49.02,9.61 L49.55,9.63 L50.08,9.66 L50.60,9.70 L51.12,9.76 L51.65,9.83 L52.17,9.91 L52.70,10.00 L53.23,10.11 L53.75,10.23 L54.27,10.36 L54.80,10.51 L55.33,10.67 L55.85,10.84 L56.38,11.02 L56.90,11.21 L57.42,11.42 L57.95,11.64 L58.48,11.87 L59.00,12.11 L59.52,12.37 L60.05,12.64 L60.58,12.92 L61.10,13.21 L61.62,13.52 L62.15,13.84 L62.67,14.16 L63.20,14.50 L63.73,14.86 L64.25,15.22 L64.78,15.60 L65.30,15.99 L65.83,16.39 L66.35,16.80 L66.88,17.22 L67.40,17.65 L67.92,18.10 L68.45,18.56 L68.97,19.02 L69.50,19.50 L70.03,19.99 L70.55,20.50 L71.08,21.01 L71.60,21.53 L72.12,22.06 L72.65,22.61 L73.17,23.16 L73.70,23.73 L74.22,24.31 L74.75,24.89 L75.28,25.49 L75.80,26.10 L76.33,26.71 L76.85,27.34 L77.38,27.98 L77.90,28.62 L78.42,29.28 L78.95,29.95 L79.47,30.62 L80.00,31.31 L80.53,32.00 L81.05,32.70 L81.58,33.42 L82.10,34.14 L82.62,34.87 L83.15,35.60 L83.68,36.35 L84.20,37.11 L84.72,37.87 L85.25,38.64 L85.78,39.42 L86.30,40.21 L86.83,41.01 L87.35,41.81 L87.88,42.62 L88.40,43.44 L88.93,44.27 L89.45,45.10 L89.97,45.94 L90.50,46.79 L91.03,47.64 L91.55,48.50 L92.08,49.37 L92.60,50.25 L93.12,51.13 L93.65,52.01 L94.18,52.91 L94.70,53.80 L95.22,54.71 L95.75,55.62 L96.28,56.53 L96.80,57.45 L97.33,58.38 L97.85,59.31 L98.38,60.25 L98.90,61.19 L99.43,62.13 L99.95,63.08 L100.47,64.03 L101.00,64.99 L101.53,65.95 L102.05,66.92 L102.58,67.89 L103.10,68.86 L103.62,69.84 L104.15,70.81 L104.68,71.80 L105.20,72.78 L105.72,73.77 L106.25,74.76 L106.78,75.75 L107.30,76.75 L107.83,77.75 L108.35,78.75 L108.88,79.75 L109.40,80.75 L109.93,81.76 L110.45,82.76 L110.97,83.77 L111.50,84.78 L113.60,88.82 L115.70,92.86 L117.80,96.90 L119.90,100.92 L122.00,104.92 L124.10,108.88 L126.20,112.80 L128.30,116.65 L130.40,120.45 L132.50,124.17 L134.60,127.80 L136.70,131.34 L138.80,134.78 L140.90,138.11 L143.00,141.32 L145.10,144.40 L147.20,147.35 L149.30,150.16 L151.40,152.81 L153.50,155.31 L155.60,157.65 L157.70,159.82 L159.80,161.82 L161.90,163.64 L164.00,165.28 L166.10,166.73 L168.20,167.98 L170.30,169.05 L172.40,169.92 L174.50,170.59 L176.60,171.06 L178.70,171.33 L180.80,171.40 L182.90,171.26 L185.00,170.93 L187.10,170.39 L189.20,169.65 L191.30,168.71 L193.40,167.58 L195.50,166.26 L197.60,164.75 L199.70,163.05 L201.80,161.17 L203.90,159.11 L206.00,156.88 L208.10,154.49 L210.20,151.94 L212.30,149.23 L214.40,146.37 L216.50,143.38 L218.60,140.25 L220.70,137.00 L222.80,133.64 L224.90,130.16 L227.00,126.59 L229.10,122.92 L231.20,119.18 L233.30,115.36 L235.40,111.48 L237.50,107.55 L239.60,103.58 L241.70,99.57 L243.80,95.54 L245.90,91.50 L248.00,87.46 L250.10,83.42 L252.20,79.40 L254.30,75.41 L256.40,71.46 L258.50,67.55 L260.60,63.70 L262.70,59.92 L264.80,56.22 L266.90,52.60 L269.00,49.07 L271.10,45.65 L273.20,42.34 L275.30,39.15 L277.40,36.09 L279.50,33.17 L281.60,30.39 L283.70,27.76 L285.80,25.28 L287.90,22.97 L290.00,20.83 L292.10,18.86 L294.20,17.07 L296.30,15.47 L298.40,14.05 L300.50,12.82 L302.60,11.79 L304.70,10.95 L306.80,10.32 L308.90,9.88 L311.00,9.64 L313.10,9.61 L315.20,9.78 L317.30,10.15 L319.40,10.72 L321.50,11.49 L323.60,12.46 L325.70,13.63 L327.80,14.98 L329.90,16.53 L332.00,18.26 L334.10,20.17 L336.20,22.25 L338.30,24.51 L340.40,26.93 L342.50,29.51 L344.60,32.24 L346.70,35.12 L348.80,38.14 L350.90,41.28 L353.00,44.55 L355.10,47.94 L357.20,51.43 L359.30,55.02 L361.40,58.70 L363.50,62.46 L365.60,66.28 L367.70,70.17 L369.80,74.11 L371.90,78.09 L374.00,82.10 L376.10,86.14 L378.20,90.18 L380.30,94.22 L382.40,98.26 L384.50,102.27 L386.60,106.26 L388.70,110.20 L390.80,114.10 L392.90,117.94 L395.00,121.71 L397.10,125.40 L399.20,129.00 L401.30,132.51 L403.40,135.91 L405.50,139.20 L407.60,142.37 L409.70,145.41 L411.80,148.31 L413.90,151.07 L416.00,153.67 L418.10,156.12 L420.20,158.40 L422.30,160.51 L424.40,162.45 L426.50,164.21 L428.60,165.78 L430.70,167.17 L432.80,168.37 L434.90,169.36 L437.00,170.17 L439.10,170.77 L441.20,171.17 L443.30,171.38 L445.40,171.37 L447.50,171.17 L449.60,170.77 L451.70,170.16 L453.80,169.36 L455.90,168.36 L458.00,167.16 L460.10,165.77 L462.20,164.20 L464.30,162.44 L466.40,160.50 L468.50,158.38 L470.60,156.10 L472.70,153.65 L474.80,151.04 L476.90,148.28 L479.00,145.38 L481.10,142.34 L483.20,139.17 L485.30,135.88 L487.40,132.48 L489.50,128.97 L491.60,125.37 L493.70,121.67 L495.80,117.90 L497.90,114.07 L500.00,110.17 L502.10,106.22 L504.20,102.24 L506.30,98.22 L508.40,94.19 L510.50,90.14 L512.60,86.10 L514.70,82.07 L516.80,78.06 L518.90,74.08 L521.00,70.14 L523.10,66.25 L525.20,62.42 L527.30,58.67 L529.40,54.99 L531.50,51.40 L533.60,47.91 L535.70,44.53 L537.80,41.26 L539.90,38.11 L542.00,35.09 L544.10,32.22 L546.20,29.49 L548.30,26.91 L550.40,24.49 L552.50,22.23 L554.60,20.15 L556.70,18.24 L558.80,16.51 L560.90,14.97 L563.00,13.61 L565.10,12.45 L567.20,11.49 L569.30,10.72 L571.40,10.15 L573.50,9.78 L575.60,9.61 L577.70,9.65 L579.80,9.88 L581.90,10.32 L584.00,10.96 L586.10,11.80 L588.20,12.83 L590.30,14.06 L592.40,15.48 L594.50,17.09 L596.60,18.88 L598.70,20.85 L600.80,22.99 L602.90,25.30 L605.00,27.78 L607.10,30.41 L609.20,33.19 L611.30,36.12 L613.40,39.18 L615.50,42.37 L617.60,45.68 L619.70,49.10 L621.80,52.63 L623.90,56.25 L626.00,59.95 L628.10,63.74 L630.20,67.59 L632.30,71.49 L634.40,75.45 L636.50,79.44 L638.60,83.46 L640.70,87.49 L642.80,91.54 L644.90,95.58 L647.00,99.61 L649.10,103.62 L651.20,107.59 L653.30,111.52 L655.40,115.40 L657.50,119.21 L659.60,122.96 L661.70,126.62 L663.80,130.19 L665.90,133.67 L668.00,137.03 L670.10,140.28 L672.20,143.41 L674.30,146.40 L676.40,149.25 L678.50,151.96" fill="none" stroke="#0000e6" stroke-width="2.10" stroke-linejoin="round" clip-path="url(#c1)" stroke-dasharray="9 7.5"/>
<text class="tk" x="48.50" y="196.80" text-anchor="middle" font-size="13.5">0</text>
<text class="tk" x="153.50" y="196.80" text-anchor="middle" font-size="13.5">5</text>
<text class="tk" x="258.50" y="196.80" text-anchor="middle" font-size="13.5">10</text>
<text class="tk" x="363.50" y="196.80" text-anchor="middle" font-size="13.5">15</text>
<text class="tk" x="468.50" y="196.80" text-anchor="middle" font-size="13.5">20</text>
<text class="tk" x="573.50" y="196.80" text-anchor="middle" font-size="13.5">25</text>
<text class="tk" x="678.50" y="196.80" text-anchor="middle" font-size="13.5">30</text>
<text class="tk" x="44.10" y="176.30" text-anchor="end" font-size="13.5">-0.5</text>
<text class="tk" x="44.10" y="95.40" text-anchor="end" font-size="13.5">0</text>
<text class="tk" x="44.10" y="14.50" text-anchor="end" font-size="13.5">0.5</text>
<text class="ax" x="363.50" y="215.90" text-anchor="middle">Time(s)</text>
<text class="ax" style="font-size:17.4px" transform="translate(13.90,90.50) rotate(-90)" text-anchor="middle">x(m)</text>
<rect x="59.20" y="17.00" width="23.10" height="25.70" fill="none" stroke="#333" stroke-width="1"/>
<line x1="82.70" y1="42.70" x2="128.15" y2="86.19" stroke="#1a1a1a" stroke-width="0.9"/>
<path d="M136.10,93.80 L121.32,87.55 L128.15,86.19 L129.20,79.31 Z" fill="#000"/>
<clipPath id="i1"><rect x="164.20" y="82.30" width="108.90" height="58.40"/></clipPath>
<rect x="164.70" y="82.80" width="107.90" height="57.40" fill="#fff"/>
<line x1="189.60" y1="140.20" x2="189.60" y2="82.80" stroke="#e2e2e2" stroke-width="0.8" stroke-dasharray="3.2 2.46"/>
<line x1="261.60" y1="140.20" x2="261.60" y2="82.80" stroke="#e2e2e2" stroke-width="0.8" stroke-dasharray="3.2 2.46"/>
<line x1="164.70" y1="127.40" x2="272.60" y2="127.40" stroke="#e2e2e2" stroke-width="0.8" stroke-dasharray="3.2 2.46"/>
<line x1="164.70" y1="105.30" x2="272.60" y2="105.30" stroke="#e2e2e2" stroke-width="0.8" stroke-dasharray="3.2 2.46"/>
<rect x="164.70" y="82.80" width="107.90" height="57.40" fill="none" stroke="#484848" stroke-width="1.00"/>
<line x1="189.60" y1="140.20" x2="189.60" y2="138.20" stroke="#484848" stroke-width="1"/>
<line x1="189.60" y1="82.80" x2="189.60" y2="84.80" stroke="#484848" stroke-width="1"/>
<line x1="261.60" y1="140.20" x2="261.60" y2="138.20" stroke="#484848" stroke-width="1"/>
<line x1="261.60" y1="82.80" x2="261.60" y2="84.80" stroke="#484848" stroke-width="1"/>
<line x1="164.70" y1="127.40" x2="166.70" y2="127.40" stroke="#484848" stroke-width="1"/>
<line x1="272.60" y1="127.40" x2="270.60" y2="127.40" stroke="#484848" stroke-width="1"/>
<line x1="164.70" y1="105.30" x2="166.70" y2="105.30" stroke="#484848" stroke-width="1"/>
<line x1="272.60" y1="105.30" x2="270.60" y2="105.30" stroke="#484848" stroke-width="1"/>
<line x1="164.70" y1="83.20" x2="166.70" y2="83.20" stroke="#484848" stroke-width="1"/>
<line x1="272.60" y1="83.20" x2="270.60" y2="83.20" stroke="#484848" stroke-width="1"/>
<path d="M163.26,141.53 L164.50,140.29 L165.75,139.11 L166.99,138.00 L168.24,136.95 L169.48,135.96 L170.73,135.03 L171.97,134.16 L173.22,133.35 L174.46,132.60 L175.71,131.90 L176.95,131.26 L178.20,130.67 L179.44,130.13 L180.69,129.65 L181.93,129.22 L183.18,128.84 L184.42,128.50 L185.66,128.22 L186.91,127.98 L188.15,127.79 L189.40,127.64 L190.64,127.53 L191.89,127.47 L193.13,127.46 L194.38,127.48 L195.62,127.54 L196.87,127.65 L198.11,127.79 L199.36,127.97 L200.60,128.19 L201.85,128.45 L203.09,128.74 L204.34,129.07 L205.58,129.43 L206.83,129.82 L208.07,130.25 L209.31,130.71 L210.56,131.21 L211.80,131.73 L213.05,132.28 L214.29,132.87 L215.54,133.48 L216.78,134.13 L218.03,134.80 L219.27,135.50 L220.52,136.23 L221.76,136.98 L223.01,137.76 L224.25,138.56 L225.50,139.39 L226.74,140.25 L227.99,141.13 L229.23,142.03 L230.47,142.95 L231.72,143.90 L232.96,144.87 L234.21,145.87 L235.45,146.88 L236.70,147.92 L237.94,148.97 L239.19,150.05 L240.43,151.15 L241.68,152.27 L242.92,153.40 L244.17,154.56 L245.41,155.73 L246.66,156.92 L247.90,158.13 L249.15,159.36 L250.39,160.60 L251.64,161.87 L252.88,163.14 L254.12,164.44 L255.37,165.75 L256.61,167.08 L257.86,168.42 L259.10,169.78 L260.35,171.15 L261.59,172.54 L262.84,173.94 L264.08,175.36 L265.33,176.79 L266.57,178.24 L267.82,179.70 L269.06,181.17 L270.31,182.65 L271.55,184.15 L272.80,185.67 L274.04,187.19" fill="none" stroke="#00ee00" stroke-width="2.10" stroke-linejoin="round" clip-path="url(#i1)"/>
<path d="M163.26,136.20 L164.50,135.03 L165.75,133.94 L166.99,132.91 L168.24,131.94 L169.48,131.03 L170.73,130.19 L171.97,129.40 L173.22,128.67 L174.46,128.00 L175.71,127.38 L176.95,126.82 L178.20,126.31 L179.44,125.85 L180.69,125.45 L181.93,125.09 L183.18,124.79 L184.42,124.53 L185.66,124.32 L186.91,124.15 L188.15,124.03 L189.40,123.95 L190.64,123.92 L191.89,123.93 L193.13,123.98 L194.38,124.08 L195.62,124.21 L196.87,124.38 L198.11,124.59 L199.36,124.83 L200.60,125.12 L201.85,125.44 L203.09,125.79 L204.34,126.18 L205.58,126.60 L206.83,127.06 L208.07,127.54 L209.31,128.06 L210.56,128.61 L211.80,129.19 L213.05,129.80 L214.29,130.44 L215.54,131.11 L216.78,131.80 L218.03,132.53 L219.27,133.28 L220.52,134.05 L221.76,134.85 L223.01,135.68 L224.25,136.53 L225.50,137.41 L226.74,138.31 L227.99,139.23 L229.23,140.18 L230.47,141.15 L231.72,142.14 L232.96,143.15 L234.21,144.18 L235.45,145.24 L236.70,146.31 L237.94,147.40 L239.19,148.52 L240.43,149.65 L241.68,150.80 L242.92,151.97 L244.17,153.16 L245.41,154.37 L246.66,155.60 L247.90,156.84 L249.15,158.10 L250.39,159.37 L251.64,160.66 L252.88,161.97 L254.12,163.29 L255.37,164.63 L256.61,165.99 L257.86,167.36 L259.10,168.74 L260.35,170.14 L261.59,171.56 L262.84,172.98 L264.08,174.42 L265.33,175.88 L266.57,177.35 L267.82,178.83 L269.06,180.32 L270.31,181.83 L271.55,183.35 L272.80,184.88 L274.04,186.43" fill="none" stroke="#ee00ee" stroke-width="2.10" stroke-linejoin="round" clip-path="url(#i1)"/>
<path d="M163.26,106.86 L164.50,106.03 L165.75,105.29 L166.99,104.62 L168.24,104.02 L169.48,103.49 L170.73,103.03 L171.97,102.64 L173.22,102.32 L174.46,102.06 L175.71,101.86 L176.95,101.72 L178.20,101.64 L179.44,101.61 L180.69,101.64 L181.93,101.72 L183.18,101.85 L184.42,102.03 L185.66,102.25 L186.91,102.53 L188.15,102.85 L189.40,103.21 L190.64,103.61 L191.89,104.06 L193.13,104.54 L194.38,105.07 L195.62,105.63 L196.87,106.23 L198.11,106.86 L199.36,107.52 L200.60,108.22 L201.85,108.95 L203.09,109.71 L204.34,110.50 L205.58,111.32 L206.83,112.17 L208.07,113.05 L209.31,113.95 L210.56,114.88 L211.80,115.83 L213.05,116.81 L214.29,117.81 L215.54,118.84 L216.78,119.88 L218.03,120.95 L219.27,122.04 L220.52,123.15 L221.76,124.29 L223.01,125.44 L224.25,126.61 L225.50,127.80 L226.74,129.00 L227.99,130.23 L229.23,131.47 L230.47,132.73 L231.72,134.00 L232.96,135.29 L234.21,136.60 L235.45,137.92 L236.70,139.26 L237.94,140.61 L239.19,141.98 L240.43,143.36 L241.68,144.75 L242.92,146.16 L244.17,147.58 L245.41,149.01 L246.66,150.46 L247.90,151.92 L249.15,153.39 L250.39,154.87 L251.64,156.37 L252.88,157.87 L254.12,159.39 L255.37,160.92 L256.61,162.46 L257.86,164.01 L259.10,165.57 L260.35,167.14 L261.59,168.72 L262.84,170.31 L264.08,171.92 L265.33,173.53 L266.57,175.15 L267.82,176.78 L269.06,178.42 L270.31,180.07 L271.55,181.73 L272.80,183.40 L274.04,185.07" fill="none" stroke="#00eeee" stroke-width="2.10" stroke-linejoin="round" clip-path="url(#i1)"/>
<path d="M163.26,99.17 L164.50,98.52 L165.75,97.93 L166.99,97.42 L168.24,96.98 L169.48,96.61 L170.73,96.30 L171.97,96.06 L173.22,95.88 L174.46,95.76 L175.71,95.70 L176.95,95.69 L178.20,95.74 L179.44,95.83 L180.69,95.98 L181.93,96.18 L183.18,96.43 L184.42,96.72 L185.66,97.06 L186.91,97.44 L188.15,97.86 L189.40,98.32 L190.64,98.82 L191.89,99.36 L193.13,99.93 L194.38,100.54 L195.62,101.19 L196.87,101.86 L198.11,102.57 L199.36,103.31 L200.60,104.08 L201.85,104.88 L203.09,105.71 L204.34,106.56 L205.58,107.45 L206.83,108.35 L208.07,109.29 L209.31,110.24 L210.56,111.22 L211.80,112.23 L213.05,113.25 L214.29,114.30 L215.54,115.37 L216.78,116.46 L218.03,117.57 L219.27,118.70 L220.52,119.85 L221.76,121.01 L223.01,122.20 L224.25,123.40 L225.50,124.62 L226.74,125.85 L227.99,127.10 L229.23,128.37 L230.47,129.65 L231.72,130.95 L232.96,132.26 L234.21,133.59 L235.45,134.93 L236.70,136.28 L237.94,137.65 L239.19,139.03 L240.43,140.43 L241.68,141.83 L242.92,143.25 L244.17,144.69 L245.41,146.13 L246.66,147.59 L247.90,149.05 L249.15,150.53 L250.39,152.02 L251.64,153.52 L252.88,155.03 L254.12,156.56 L255.37,158.09 L256.61,159.63 L257.86,161.18 L259.10,162.75 L260.35,164.32 L261.59,165.90 L262.84,167.50 L264.08,169.10 L265.33,170.71 L266.57,172.33 L267.82,173.96 L269.06,175.60 L270.31,177.24 L271.55,178.90 L272.80,180.57 L274.04,182.24" fill="none" stroke="#e60000" stroke-width="2.10" stroke-linejoin="round" clip-path="url(#i1)"/>
<path d="M163.26,62.37 L164.50,63.32 L165.75,64.29 L166.99,65.26 L168.24,66.24 L169.48,67.23 L170.73,68.23 L171.97,69.24 L173.22,70.26 L174.46,71.29 L175.71,72.33 L176.95,73.37 L178.20,74.43 L179.44,75.50 L180.69,76.57 L181.93,77.65 L183.18,78.75 L184.42,79.85 L185.66,80.96 L186.91,82.08 L188.15,83.21 L189.40,84.35 L190.64,85.50 L191.89,86.66 L193.13,87.82 L194.38,89.00 L195.62,90.18 L196.87,91.37 L198.11,92.58 L199.36,93.79 L200.60,95.01 L201.85,96.23 L203.09,97.47 L204.34,98.72 L205.58,99.97 L206.83,101.24 L208.07,102.51 L209.31,103.79 L210.56,105.08 L211.80,106.38 L213.05,107.68 L214.29,109.00 L215.54,110.32 L216.78,111.66 L218.03,113.00 L219.27,114.35 L220.52,115.71 L221.76,117.07 L223.01,118.45 L224.25,119.83 L225.50,121.23 L226.74,122.63 L227.99,124.04 L229.23,125.45 L230.47,126.88 L231.72,128.31 L232.96,129.75 L234.21,131.20 L235.45,132.66 L236.70,134.13 L237.94,135.60 L239.19,137.09 L240.43,138.58 L241.68,140.08 L242.92,141.58 L244.17,143.10 L245.41,144.62 L246.66,146.15 L247.90,147.69 L249.15,149.24 L250.39,150.79 L251.64,152.36 L252.88,153.93 L254.12,155.50 L255.37,157.09 L256.61,158.68 L257.86,160.28 L259.10,161.89 L260.35,163.51 L261.59,165.13 L262.84,166.76 L264.08,168.40 L265.33,170.05 L266.57,171.70 L267.82,173.36 L269.06,175.03 L270.31,176.71 L271.55,178.39 L272.80,180.08 L274.04,181.78" fill="none" stroke="#0000e6" stroke-width="2.10" stroke-linejoin="round" clip-path="url(#i1)" stroke-dasharray="9 7.5"/>
<text class="tk" x="189.60" y="157.60" text-anchor="middle" font-size="13.5">1</text>
<text class="tk" x="261.60" y="157.60" text-anchor="middle" font-size="13.5">1.5</text>
<text class="tk" x="160.30" y="132.30" text-anchor="end" font-size="13.5">0.4</text>
<text class="tk" x="160.30" y="110.20" text-anchor="end" font-size="13.5">0.42</text>
<text class="tk" x="160.30" y="88.10" text-anchor="end" font-size="13.5">0.44</text>
<rect x="547.60" y="46.60" width="121.60" height="80.40" fill="#fff" stroke="#545454" stroke-width="1"/>
<line x1="552.30" y1="56.20" x2="596.20" y2="56.20" stroke="#0000e6" stroke-width="2.10" stroke-dasharray="9 8"/>
<text class="lg" x="600.00" y="60.90">Reference</text>
<line x1="552.30" y1="71.60" x2="596.20" y2="71.60" stroke="#00ee00" stroke-width="2.10"/>
<text class="lg" x="600.00" y="76.30">Controller 1</text>
<line x1="552.30" y1="87.00" x2="596.20" y2="87.00" stroke="#ee00ee" stroke-width="2.10"/>
<text class="lg" x="600.00" y="91.70">Controller 2</text>
<line x1="552.30" y1="102.40" x2="596.20" y2="102.40" stroke="#00eeee" stroke-width="2.10"/>
<text class="lg" x="600.00" y="107.10">Controller 3</text>
<line x1="552.30" y1="117.90" x2="596.20" y2="117.90" stroke="#e60000" stroke-width="2.10"/>
<text class="lg" x="600.00" y="122.60">Controller 4</text>
<clipPath id="c2"><rect x="48.00" y="240.40" width="631.00" height="178.40"/></clipPath>
<line x1="153.50" y1="418.30" x2="153.50" y2="240.90" stroke="#e2e2e2" stroke-width="0.8" stroke-dasharray="3.2 2.46"/>
<line x1="258.50" y1="418.30" x2="258.50" y2="240.90" stroke="#e2e2e2" stroke-width="0.8" stroke-dasharray="3.2 2.46"/>
<line x1="363.50" y1="418.30" x2="363.50" y2="240.90" stroke="#e2e2e2" stroke-width="0.8" stroke-dasharray="3.2 2.46"/>
<line x1="468.50" y1="418.30" x2="468.50" y2="240.90" stroke="#e2e2e2" stroke-width="0.8" stroke-dasharray="3.2 2.46"/>
<line x1="573.50" y1="418.30" x2="573.50" y2="240.90" stroke="#e2e2e2" stroke-width="0.8" stroke-dasharray="3.2 2.46"/>
<line x1="48.50" y1="387.50" x2="678.50" y2="387.50" stroke="#e2e2e2" stroke-width="0.8" stroke-dasharray="3.2 2.46"/>
<line x1="48.50" y1="356.75" x2="678.50" y2="356.75" stroke="#e2e2e2" stroke-width="0.8" stroke-dasharray="3.2 2.46"/>
<line x1="48.50" y1="326.00" x2="678.50" y2="326.00" stroke="#e2e2e2" stroke-width="0.8" stroke-dasharray="3.2 2.46"/>
<line x1="48.50" y1="295.25" x2="678.50" y2="295.25" stroke="#e2e2e2" stroke-width="0.8" stroke-dasharray="3.2 2.46"/>
<line x1="48.50" y1="264.50" x2="678.50" y2="264.50" stroke="#e2e2e2" stroke-width="0.8" stroke-dasharray="3.2 2.46"/>
<rect x="48.50" y="240.90" width="630.00" height="177.40" fill="none" stroke="#545454" stroke-width="1.00"/>
<line x1="48.50" y1="418.30" x2="48.50" y2="412.00" stroke="#545454" stroke-width="1"/>
<line x1="48.50" y1="240.90" x2="48.50" y2="247.20" stroke="#545454" stroke-width="1"/>
<line x1="153.50" y1="418.30" x2="153.50" y2="412.00" stroke="#545454" stroke-width="1"/>
<line x1="153.50" y1="240.90" x2="153.50" y2="247.20" stroke="#545454" stroke-width="1"/>
<line x1="258.50" y1="418.30" x2="258.50" y2="412.00" stroke="#545454" stroke-width="1"/>
<line x1="258.50" y1="240.90" x2="258.50" y2="247.20" stroke="#545454" stroke-width="1"/>
<line x1="363.50" y1="418.30" x2="363.50" y2="412.00" stroke="#545454" stroke-width="1"/>
<line x1="363.50" y1="240.90" x2="363.50" y2="247.20" stroke="#545454" stroke-width="1"/>
<line x1="468.50" y1="418.30" x2="468.50" y2="412.00" stroke="#545454" stroke-width="1"/>
<line x1="468.50" y1="240.90" x2="468.50" y2="247.20" stroke="#545454" stroke-width="1"/>
<line x1="573.50" y1="418.30" x2="573.50" y2="412.00" stroke="#545454" stroke-width="1"/>
<line x1="573.50" y1="240.90" x2="573.50" y2="247.20" stroke="#545454" stroke-width="1"/>
<line x1="678.50" y1="418.30" x2="678.50" y2="412.00" stroke="#545454" stroke-width="1"/>
<line x1="678.50" y1="240.90" x2="678.50" y2="247.20" stroke="#545454" stroke-width="1"/>
<line x1="48.50" y1="418.25" x2="54.80" y2="418.25" stroke="#545454" stroke-width="1"/>
<line x1="678.50" y1="418.25" x2="672.20" y2="418.25" stroke="#545454" stroke-width="1"/>
<line x1="48.50" y1="387.50" x2="54.80" y2="387.50" stroke="#545454" stroke-width="1"/>
<line x1="678.50" y1="387.50" x2="672.20" y2="387.50" stroke="#545454" stroke-width="1"/>
<line x1="48.50" y1="356.75" x2="54.80" y2="356.75" stroke="#545454" stroke-width="1"/>
<line x1="678.50" y1="356.75" x2="672.20" y2="356.75" stroke="#545454" stroke-width="1"/>
<line x1="48.50" y1="326.00" x2="54.80" y2="326.00" stroke="#545454" stroke-width="1"/>
<line x1="678.50" y1="326.00" x2="672.20" y2="326.00" stroke="#545454" stroke-width="1"/>
<line x1="48.50" y1="295.25" x2="54.80" y2="295.25" stroke="#545454" stroke-width="1"/>
<line x1="678.50" y1="295.25" x2="672.20" y2="295.25" stroke="#545454" stroke-width="1"/>
<line x1="48.50" y1="264.50" x2="54.80" y2="264.50" stroke="#545454" stroke-width="1"/>
<line x1="678.50" y1="264.50" x2="672.20" y2="264.50" stroke="#545454" stroke-width="1"/>
<path d="M48.50,326.00 L49.02,327.92 L49.55,329.59 L50.08,330.94 L50.60,331.87 L51.12,332.61 L51.65,333.28 L52.17,333.72 L52.70,333.73 L53.23,333.13 L53.75,332.24 L54.27,331.34 L54.80,330.42 L55.33,329.49 L55.85,328.40 L56.38,326.95 L56.90,325.36 L57.42,323.88 L57.95,322.42 L58.48,320.95 L59.00,319.47 L59.52,317.99 L60.05,316.50 L60.58,315.01 L61.10,313.50 L61.62,311.99 L62.15,310.49 L62.67,309.03 L63.20,307.62 L63.73,306.22 L64.25,304.85 L64.78,303.50 L65.30,302.17 L65.83,300.87 L66.35,299.60 L66.88,298.36 L67.40,297.15 L67.92,295.95 L68.45,294.78 L68.97,293.62 L69.50,292.48 L70.03,291.35 L70.55,290.23 L71.08,289.13 L71.60,288.07 L72.12,287.04 L72.65,286.05 L73.17,285.07 L73.70,284.12 L74.22,283.17 L74.75,282.25 L75.28,281.33 L75.80,280.42 L76.33,279.51 L76.85,278.62 L77.38,277.73 L77.90,276.86 L78.42,275.99 L78.95,275.15 L79.47,274.32 L80.00,273.50 L80.53,272.70 L81.05,271.90 L81.58,271.11 L82.10,270.32 L82.62,269.55 L83.15,268.78 L83.68,268.02 L84.20,267.28 L84.72,266.55 L85.25,265.83 L85.78,265.12 L86.30,264.43 L86.83,263.76 L87.35,263.11 L87.88,262.47 L88.40,261.86 L88.93,261.26 L89.45,260.69 L89.97,260.14 L90.50,259.61 L91.03,259.10 L91.55,258.60 L92.08,258.12 L92.60,257.64 L93.12,257.18 L93.65,256.74 L94.18,256.30 L94.70,255.88 L95.22,255.46 L95.75,255.06 L96.28,254.68 L96.80,254.30 L97.33,253.94 L97.85,253.58 L98.38,253.24 L98.90,252.92 L99.43,252.60 L99.95,252.30 L100.47,252.00 L101.00,251.72 L101.53,251.46 L102.05,251.22 L102.58,250.99 L103.10,250.79 L103.62,250.60 L104.15,250.43 L104.68,250.27 L105.20,250.14 L105.72,250.01 L106.25,249.91 L106.78,249.81 L107.30,249.73 L107.83,249.66 L108.35,249.60 L108.88,249.55 L109.40,249.51 L109.93,249.48 L110.45,249.46 L110.97,249.45 L111.50,249.44 L113.60,249.52 L115.70,249.79 L117.80,250.24 L119.90,250.85 L122.00,251.61 L124.10,252.53 L126.20,253.63 L128.30,254.89 L130.40,256.31 L132.50,257.85 L134.60,259.53 L136.70,261.36 L138.80,263.33 L140.90,265.46 L143.00,267.74 L145.10,270.17 L147.20,272.74 L149.30,275.45 L151.40,278.29 L153.50,281.24 L155.60,284.31 L157.70,287.48 L159.80,290.74 L161.90,294.09 L164.00,297.53 L166.10,301.03 L168.20,304.68 L170.30,308.40 L172.40,312.15 L174.50,315.95 L176.60,319.77 L178.70,323.61 L180.80,327.46 L182.90,331.30 L185.00,335.13 L187.10,338.95 L189.20,342.73 L191.30,346.47 L193.40,350.16 L195.50,353.80 L197.60,357.37 L199.70,360.86 L201.80,364.26 L203.90,367.58 L206.00,370.79 L208.10,373.89 L210.20,376.87 L212.30,379.73 L214.40,382.45 L216.50,385.04 L218.60,387.48 L220.70,389.77 L222.80,391.90 L224.90,393.87 L227.00,395.67 L229.10,397.30 L231.20,398.75 L233.30,400.03 L235.40,401.12 L237.50,402.02 L239.60,402.74 L241.70,403.27 L243.80,403.61 L245.90,403.75 L248.00,403.70 L250.10,403.47 L252.20,403.03 L254.30,402.41 L256.40,401.60 L258.50,400.61 L260.60,399.43 L262.70,398.06 L264.80,396.52 L266.90,394.81 L269.00,392.93 L271.10,390.88 L273.20,388.67 L275.30,386.30 L277.40,383.79 L279.50,381.14 L281.60,378.35 L283.70,375.43 L285.80,372.39 L287.90,369.24 L290.00,365.98 L292.10,362.62 L294.20,359.17 L296.30,355.65 L298.40,352.05 L300.50,348.39 L302.60,344.67 L304.70,340.91 L306.80,337.12 L308.90,333.30 L311.00,329.46 L313.10,325.62 L315.20,321.78 L317.30,317.95 L319.40,314.15 L321.50,310.37 L323.60,306.64 L325.70,302.96 L327.80,299.34 L329.90,295.79 L332.00,292.32 L334.10,288.93 L336.20,285.64 L338.30,282.45 L340.40,279.37 L342.50,276.41 L344.60,273.57 L346.70,270.87 L348.80,268.32 L350.90,265.90 L353.00,263.64 L355.10,261.54 L357.20,259.60 L359.30,257.83 L361.40,256.23 L363.50,254.81 L365.60,253.57 L367.70,252.51 L369.80,251.64 L371.90,250.95 L374.00,250.46 L376.10,250.15 L378.20,250.04 L380.30,250.12 L382.40,250.40 L384.50,250.86 L386.60,251.52 L388.70,252.36 L390.80,253.39 L392.90,254.60 L395.00,255.99 L397.10,257.56 L399.20,259.31 L401.30,261.22 L403.40,263.30 L405.50,265.54 L407.60,267.93 L409.70,270.46 L411.80,273.14 L413.90,275.95 L416.00,278.89 L418.10,281.95 L420.20,285.13 L422.30,288.40 L424.40,291.78 L426.50,295.24 L428.60,298.78 L430.70,302.39 L432.80,306.06 L434.90,309.79 L437.00,313.55 L439.10,317.35 L441.20,321.18 L443.30,325.02 L445.40,328.86 L447.50,332.70 L449.60,336.52 L451.70,340.32 L453.80,344.09 L455.90,347.81 L458.00,351.48 L460.10,355.09 L462.20,358.63 L464.30,362.09 L466.40,365.47 L468.50,368.74 L470.60,371.91 L472.70,374.97 L474.80,377.91 L476.90,380.72 L479.00,383.40 L481.10,385.94 L483.20,388.33 L485.30,390.56 L487.40,392.64 L489.50,394.55 L491.60,396.29 L493.70,397.86 L495.80,399.25 L497.90,400.46 L500.00,401.49 L502.10,402.33 L504.20,402.98 L506.30,403.45 L508.40,403.72 L510.50,403.80 L512.60,403.68 L514.70,403.38 L516.80,402.88 L518.90,402.20 L521.00,401.32 L523.10,400.26 L525.20,399.02 L527.30,397.60 L529.40,396.00 L531.50,394.22 L533.60,392.28 L535.70,390.18 L537.80,387.91 L539.90,385.50 L542.00,382.94 L544.10,380.24 L546.20,377.40 L548.30,374.44 L550.40,371.36 L552.50,368.17 L554.60,364.88 L556.70,361.49 L558.80,358.01 L560.90,354.46 L563.00,350.84 L565.10,347.16 L567.20,343.43 L569.30,339.65 L571.40,335.85 L573.50,332.02 L575.60,328.18 L577.70,324.34 L579.80,320.50 L581.90,316.68 L584.00,312.89 L586.10,309.13 L588.20,305.41 L590.30,301.75 L592.40,298.15 L594.50,294.62 L596.60,291.18 L598.70,287.82 L600.80,284.56 L602.90,281.41 L605.00,278.37 L607.10,275.45 L609.20,272.66 L611.30,270.01 L613.40,267.49 L615.50,265.13 L617.60,262.92 L619.70,260.87 L621.80,258.99 L623.90,257.28 L626.00,255.74 L628.10,254.38 L630.20,253.20 L632.30,252.20 L634.40,251.39 L636.50,250.77 L638.60,250.34 L640.70,250.10 L642.80,250.05 L644.90,250.20 L647.00,250.54 L649.10,251.06 L651.20,251.78 L653.30,252.69 L655.40,253.78 L657.50,255.05 L659.60,256.51 L661.70,258.14 L663.80,259.94 L665.90,261.91 L668.00,264.04 L670.10,266.33 L672.20,268.77 L674.30,271.35 L676.40,274.08 L678.50,276.93" fill="none" stroke="#00ee00" stroke-width="2.10" stroke-linejoin="round" clip-path="url(#c2)"/>
<path d="M48.50,326.00 L49.02,327.78 L49.55,329.34 L50.08,330.58 L50.60,331.43 L51.12,332.08 L51.65,332.67 L52.17,333.04 L52.70,333.00 L53.23,332.39 L53.75,331.51 L54.27,330.61 L54.80,329.70 L55.33,328.77 L55.85,327.69 L56.38,326.26 L56.90,324.71 L57.42,323.26 L57.95,321.83 L58.48,320.39 L59.00,318.95 L59.52,317.50 L60.05,316.04 L60.58,314.57 L61.10,313.09 L61.62,311.60 L62.15,310.12 L62.67,308.68 L63.20,307.27 L63.73,305.88 L64.25,304.51 L64.78,303.16 L65.30,301.83 L65.83,300.53 L66.35,299.26 L66.88,298.02 L67.40,296.80 L67.92,295.60 L68.45,294.43 L68.97,293.28 L69.50,292.15 L70.03,291.03 L70.55,289.93 L71.08,288.86 L71.60,287.83 L72.12,286.84 L72.65,285.87 L73.17,284.94 L73.70,284.01 L74.22,283.11 L74.75,282.21 L75.28,281.32 L75.80,280.42 L76.33,279.53 L76.85,278.64 L77.38,277.76 L77.90,276.89 L78.42,276.03 L78.95,275.18 L79.47,274.35 L80.00,273.53 L80.53,272.72 L81.05,271.92 L81.58,271.12 L82.10,270.33 L82.62,269.55 L83.15,268.77 L83.68,268.01 L84.20,267.26 L84.72,266.52 L85.25,265.79 L85.78,265.08 L86.30,264.38 L86.83,263.70 L87.35,263.04 L87.88,262.40 L88.40,261.78 L88.93,261.18 L89.45,260.60 L89.97,260.05 L90.50,259.53 L91.03,259.02 L91.55,258.52 L92.08,258.04 L92.60,257.57 L93.12,257.11 L93.65,256.66 L94.18,256.23 L94.70,255.81 L95.22,255.40 L95.75,255.00 L96.28,254.61 L96.80,254.24 L97.33,253.88 L97.85,253.53 L98.38,253.19 L98.90,252.86 L99.43,252.55 L99.95,252.25 L100.47,251.95 L101.00,251.68 L101.53,251.42 L102.05,251.18 L102.58,250.96 L103.10,250.76 L103.62,250.58 L104.15,250.42 L104.68,250.27 L105.20,250.14 L105.72,250.03 L106.25,249.93 L106.78,249.85 L107.30,249.78 L107.83,249.72 L108.35,249.67 L108.88,249.64 L109.40,249.61 L109.93,249.59 L110.45,249.58 L110.97,249.58 L111.50,249.58 L113.60,249.69 L115.70,250.00 L117.80,250.48 L119.90,251.13 L122.00,251.92 L124.10,252.89 L126.20,254.03 L128.30,255.34 L130.40,256.79 L132.50,258.35 L134.60,260.03 L136.70,261.86 L138.80,263.84 L140.90,265.97 L143.00,268.25 L145.10,270.68 L147.20,273.26 L149.30,275.96 L151.40,278.79 L153.50,281.73 L155.60,284.79 L157.70,287.94 L159.80,291.19 L161.90,294.53 L164.00,297.94 L166.10,301.42 L168.20,305.08 L170.30,308.79 L172.40,312.55 L174.50,316.35 L176.60,320.17 L178.70,324.01 L180.80,327.86 L182.90,331.71 L185.00,335.54 L187.10,339.36 L189.20,343.14 L191.30,346.89 L193.40,350.58 L195.50,354.22 L197.60,357.78 L199.70,361.28 L201.80,364.68 L203.90,368.00 L206.00,371.21 L208.10,374.31 L210.20,377.29 L212.30,380.15 L214.40,382.88 L216.50,385.47 L218.60,387.91 L220.70,390.20 L222.80,392.33 L224.90,394.30 L227.00,396.10 L229.10,397.74 L231.20,399.19 L233.30,400.46 L235.40,401.56 L237.50,402.46 L239.60,403.18 L241.70,403.71 L243.80,404.05 L245.90,404.19 L248.00,404.15 L250.10,403.91 L252.20,403.48 L254.30,402.86 L256.40,402.05 L258.50,401.05 L260.60,399.87 L262.70,398.51 L264.80,396.97 L266.90,395.26 L269.00,393.37 L271.10,391.32 L273.20,389.12 L275.30,386.75 L277.40,384.24 L279.50,381.59 L281.60,378.80 L283.70,375.88 L285.80,372.84 L287.90,369.69 L290.00,366.43 L292.10,363.07 L294.20,359.63 L296.30,356.10 L298.40,352.50 L300.50,348.84 L302.60,345.12 L304.70,341.36 L306.80,337.57 L308.90,333.75 L311.00,329.91 L313.10,326.07 L315.20,322.23 L317.30,318.40 L319.40,314.60 L321.50,310.83 L323.60,307.10 L325.70,303.42 L327.80,299.80 L329.90,296.25 L332.00,292.77 L334.10,289.38 L336.20,286.09 L338.30,282.90 L340.40,279.82 L342.50,276.86 L344.60,274.03 L346.70,271.33 L348.80,268.77 L350.90,266.36 L353.00,264.10 L355.10,262.00 L357.20,260.06 L359.30,258.29 L361.40,256.69 L363.50,255.27 L365.60,254.02 L367.70,252.97 L369.80,252.09 L371.90,251.41 L374.00,250.92 L376.10,250.61 L378.20,250.50 L380.30,250.58 L382.40,250.86 L384.50,251.32 L386.60,251.97 L388.70,252.82 L390.80,253.85 L392.90,255.06 L395.00,256.45 L397.10,258.02 L399.20,259.77 L401.30,261.68 L403.40,263.76 L405.50,266.00 L407.60,268.39 L409.70,270.92 L411.80,273.60 L413.90,276.41 L416.00,279.35 L418.10,282.41 L420.20,285.59 L422.30,288.86 L424.40,292.24 L426.50,295.70 L428.60,299.24 L430.70,302.85 L432.80,306.52 L434.90,310.25 L437.00,314.01 L439.10,317.81 L441.20,321.64 L443.30,325.48 L445.40,329.32 L447.50,333.16 L449.60,336.98 L451.70,340.78 L453.80,344.55 L455.90,348.27 L458.00,351.94 L460.10,355.55 L462.20,359.09 L464.30,362.55 L466.40,365.93 L468.50,369.20 L470.60,372.38 L472.70,375.43 L474.80,378.37 L476.90,381.19 L479.00,383.86 L481.10,386.40 L483.20,388.79 L485.30,391.02 L487.40,393.10 L489.50,395.01 L491.60,396.75 L493.70,398.32 L495.80,399.71 L497.90,400.92 L500.00,401.95 L502.10,402.79 L504.20,403.44 L506.30,403.91 L508.40,404.18 L510.50,404.26 L512.60,404.14 L514.70,403.84 L516.80,403.34 L518.90,402.66 L521.00,401.78 L523.10,400.72 L525.20,399.48 L527.30,398.06 L529.40,396.46 L531.50,394.68 L533.60,392.74 L535.70,390.64 L537.80,388.38 L539.90,385.96 L542.00,383.40 L544.10,380.70 L546.20,377.86 L548.30,374.90 L550.40,371.82 L552.50,368.63 L554.60,365.34 L556.70,361.95 L558.80,358.47 L560.90,354.92 L563.00,351.30 L565.10,347.62 L567.20,343.89 L569.30,340.11 L571.40,336.31 L573.50,332.48 L575.60,328.64 L577.70,324.80 L579.80,320.96 L581.90,317.14 L584.00,313.35 L586.10,309.59 L588.20,305.87 L590.30,302.21 L592.40,298.61 L594.50,295.08 L596.60,291.64 L598.70,288.28 L600.80,285.02 L602.90,281.87 L605.00,278.83 L607.10,275.91 L609.20,273.12 L611.30,270.47 L613.40,267.96 L615.50,265.59 L617.60,263.38 L619.70,261.34 L621.80,259.45 L623.90,257.74 L626.00,256.20 L628.10,254.84 L630.20,253.66 L632.30,252.66 L634.40,251.85 L636.50,251.23 L638.60,250.80 L640.70,250.56 L642.80,250.51 L644.90,250.66 L647.00,251.00 L649.10,251.53 L651.20,252.24 L653.30,253.15 L655.40,254.24 L657.50,255.51 L659.60,256.97 L661.70,258.60 L663.80,260.40 L665.90,262.37 L668.00,264.50 L670.10,266.79 L672.20,269.23 L674.30,271.81 L676.40,274.54 L678.50,277.39" fill="none" stroke="#ee00ee" stroke-width="2.10" stroke-linejoin="round" clip-path="url(#c2)"/>
<path d="M48.50,326.00 L49.02,325.47 L49.55,324.94 L50.08,324.38 L50.60,323.78 L51.12,323.13 L51.65,322.41 L52.17,321.61 L52.70,320.71 L53.23,319.75 L53.75,318.78 L54.27,317.79 L54.80,316.81 L55.33,315.81 L55.85,314.82 L56.38,313.82 L56.90,312.82 L57.42,311.81 L57.95,310.81 L58.48,309.82 L59.00,308.83 L59.52,307.83 L60.05,306.84 L60.58,305.83 L61.10,304.83 L61.62,303.82 L62.15,302.82 L62.67,301.81 L63.20,300.81 L63.73,299.81 L64.25,298.82 L64.78,297.83 L65.30,296.85 L65.83,295.88 L66.35,294.91 L66.88,293.96 L67.40,293.02 L67.92,292.09 L68.45,291.17 L68.97,290.26 L69.50,289.36 L70.03,288.46 L70.55,287.57 L71.08,286.69 L71.60,285.82 L72.12,285.00 L72.65,284.20 L73.17,283.39 L73.70,282.60 L74.22,281.81 L74.75,281.03 L75.28,280.25 L75.80,279.49 L76.33,278.73 L76.85,277.97 L77.38,277.23 L77.90,276.49 L78.42,275.76 L78.95,275.04 L79.47,274.33 L80.00,273.63 L80.53,272.93 L81.05,272.24 L81.58,271.56 L82.10,270.89 L82.62,270.23 L83.15,269.58 L83.68,268.93 L84.20,268.30 L84.72,267.67 L85.25,267.05 L85.78,266.45 L86.30,265.85 L86.83,265.26 L87.35,264.68 L87.88,264.11 L88.40,263.55 L88.93,263.00 L89.45,262.46 L89.97,261.93 L90.50,261.41 L91.03,260.91 L91.55,260.41 L92.08,259.92 L92.60,259.44 L93.12,258.97 L93.65,258.52 L94.18,258.07 L94.70,257.63 L95.22,257.21 L95.75,256.80 L96.28,256.39 L96.80,256.00 L97.33,255.62 L97.85,255.25 L98.38,254.89 L98.90,254.55 L99.43,254.21 L99.95,253.89 L100.47,253.57 L101.00,253.27 L101.53,252.98 L102.05,252.70 L102.58,252.43 L103.10,252.18 L103.62,251.94 L104.15,251.70 L104.68,251.48 L105.20,251.27 L105.72,251.08 L106.25,250.89 L106.78,250.72 L107.30,250.56 L107.83,250.41 L108.35,250.27 L108.88,250.15 L109.40,250.03 L109.93,249.93 L110.45,249.84 L110.97,249.77 L111.50,249.70 L113.60,249.56 L115.70,249.62 L117.80,249.86 L119.90,250.30 L122.00,250.94 L124.10,251.76 L126.20,252.77 L128.30,253.97 L130.40,255.35 L132.50,256.90 L134.60,258.64 L136.70,260.55 L138.80,262.62 L140.90,264.85 L143.00,267.24 L145.10,269.79 L147.20,272.47 L149.30,275.29 L151.40,278.25 L153.50,281.32 L155.60,284.52 L157.70,287.82 L159.80,291.22 L161.90,294.71 L164.00,298.28 L166.10,301.93 L168.20,305.64 L170.30,309.41 L172.40,313.22 L174.50,317.07 L176.60,320.95 L178.70,324.84 L180.80,328.75 L182.90,332.65 L185.00,336.54 L187.10,340.41 L189.20,344.25 L191.30,348.05 L193.40,351.80 L195.50,355.50 L197.60,359.12 L199.70,362.67 L201.80,366.14 L203.90,369.51 L206.00,372.77 L208.10,375.93 L210.20,378.97 L212.30,381.88 L214.40,384.67 L216.50,387.31 L218.60,389.80 L220.70,392.15 L222.80,394.34 L224.90,396.36 L227.00,398.21 L229.10,399.90 L231.20,401.40 L233.30,402.73 L235.40,403.87 L237.50,404.82 L239.60,405.59 L241.70,406.17 L243.80,406.55 L245.90,406.75 L248.00,406.75 L250.10,406.57 L252.20,406.19 L254.30,405.62 L256.40,404.86 L258.50,403.92 L260.60,402.80 L262.70,401.49 L264.80,400.00 L266.90,398.35 L269.00,396.52 L271.10,394.53 L273.20,392.37 L275.30,390.07 L277.40,387.61 L279.50,385.02 L281.60,382.28 L283.70,379.42 L285.80,376.44 L287.90,373.35 L290.00,370.15 L292.10,366.85 L294.20,363.46 L296.30,359.99 L298.40,356.45 L300.50,352.85 L302.60,349.19 L304.70,345.49 L306.80,341.76 L308.90,338.00 L311.00,334.22 L313.10,330.43 L315.20,326.65 L317.30,322.89 L319.40,319.14 L321.50,315.43 L323.60,311.75 L325.70,308.13 L327.80,304.57 L329.90,301.07 L332.00,297.65 L334.10,294.32 L336.20,291.09 L338.30,287.95 L340.40,284.93 L342.50,282.02 L344.60,279.25 L346.70,276.60 L348.80,274.09 L350.90,271.73 L353.00,269.52 L355.10,267.47 L357.20,265.59 L359.30,263.87 L361.40,262.32 L363.50,260.94 L365.60,259.75 L367.70,258.74 L369.80,257.92 L371.90,257.28 L374.00,256.83 L376.10,256.57 L378.20,256.51 L380.30,256.63 L382.40,256.95 L384.50,257.45 L386.60,258.15 L388.70,259.03 L390.80,260.11 L392.90,261.36 L395.00,262.79 L397.10,264.41 L399.20,266.19 L401.30,268.14 L403.40,270.26 L405.50,272.54 L407.60,274.96 L409.70,277.54 L411.80,280.26 L413.90,283.11 L416.00,286.09 L418.10,289.18 L420.20,292.39 L422.30,295.71 L424.40,299.12 L426.50,302.62 L428.60,306.19 L430.70,309.84 L432.80,313.55 L434.90,317.31 L437.00,321.11 L439.10,324.95 L441.20,328.81 L443.30,332.68 L445.40,336.56 L447.50,340.43 L449.60,344.29 L451.70,348.12 L453.80,351.93 L455.90,355.68 L458.00,359.39 L460.10,363.03 L462.20,366.61 L464.30,370.10 L466.40,373.51 L468.50,376.82 L470.60,380.03 L472.70,383.12 L474.80,386.09 L476.90,388.94 L479.00,391.65 L481.10,394.22 L483.20,396.64 L485.30,398.91 L487.40,401.02 L489.50,402.97 L491.60,404.74 L493.70,406.35 L495.80,407.77 L497.90,409.02 L500.00,410.08 L502.10,410.96 L504.20,411.64 L506.30,412.14 L508.40,412.45 L510.50,412.56 L512.60,412.48 L514.70,412.21 L516.80,411.75 L518.90,411.10 L521.00,410.26 L523.10,409.24 L525.20,408.03 L527.30,406.64 L529.40,405.07 L531.50,403.34 L533.60,401.43 L535.70,399.36 L537.80,397.13 L539.90,394.75 L542.00,392.22 L544.10,389.55 L546.20,386.75 L548.30,383.83 L550.40,380.78 L552.50,377.62 L554.60,374.36 L556.70,371.01 L558.80,367.57 L560.90,364.05 L563.00,360.46 L565.10,356.81 L567.20,353.12 L569.30,349.38 L571.40,345.60 L573.50,341.81 L575.60,338.00 L577.70,334.19 L579.80,330.39 L581.90,326.60 L584.00,322.84 L586.10,319.12 L588.20,315.43 L590.30,311.81 L592.40,308.24 L594.50,304.75 L596.60,301.34 L598.70,298.01 L600.80,294.79 L602.90,291.67 L605.00,288.66 L607.10,285.78 L609.20,283.02 L611.30,280.40 L613.40,277.93 L615.50,275.60 L617.60,273.42 L619.70,271.41 L621.80,269.56 L623.90,267.88 L626.00,266.37 L628.10,265.05 L630.20,263.90 L632.30,262.94 L634.40,262.17 L636.50,261.58 L638.60,261.19 L640.70,260.98 L642.80,260.97 L644.90,261.15 L647.00,261.52 L649.10,262.09 L651.20,262.84 L653.30,263.78 L655.40,264.91 L657.50,266.22 L659.60,267.71 L661.70,269.37 L663.80,271.21 L665.90,273.22 L668.00,275.39 L670.10,277.71 L672.20,280.19 L674.30,282.81 L676.40,285.57 L678.50,288.46" fill="none" stroke="#00eeee" stroke-width="2.10" stroke-linejoin="round" clip-path="url(#c2)"/>
<path d="M48.50,326.00 L49.02,327.15 L49.55,327.87 L50.08,328.09 L50.60,328.01 L51.12,327.53 L51.65,326.95 L52.17,326.26 L52.70,325.40 L53.23,324.42 L53.75,323.39 L54.27,322.34 L54.80,321.27 L55.33,320.19 L55.85,319.07 L56.38,317.90 L56.90,316.69 L57.42,315.45 L57.95,314.20 L58.48,312.95 L59.00,311.72 L59.52,310.50 L60.05,309.32 L60.58,308.14 L61.10,306.95 L61.62,305.77 L62.15,304.59 L62.67,303.43 L63.20,302.29 L63.73,301.18 L64.25,300.09 L64.78,299.04 L65.30,298.03 L65.83,297.03 L66.35,296.05 L66.88,295.08 L67.40,294.12 L67.92,293.18 L68.45,292.24 L68.97,291.30 L69.50,290.37 L70.03,289.45 L70.55,288.53 L71.08,287.62 L71.60,286.72 L72.12,285.84 L72.65,284.96 L73.17,284.09 L73.70,283.23 L74.22,282.39 L74.75,281.54 L75.28,280.71 L75.80,279.88 L76.33,279.06 L76.85,278.25 L77.38,277.44 L77.90,276.63 L78.42,275.83 L78.95,275.03 L79.47,274.24 L80.00,273.45 L80.53,272.67 L81.05,271.90 L81.58,271.14 L82.10,270.39 L82.62,269.65 L83.15,268.91 L83.68,268.18 L84.20,267.45 L84.72,266.73 L85.25,266.02 L85.78,265.32 L86.30,264.64 L86.83,263.96 L87.35,263.31 L87.88,262.67 L88.40,262.05 L88.93,261.44 L89.45,260.86 L89.97,260.31 L90.50,259.77 L91.03,259.26 L91.55,258.76 L92.08,258.27 L92.60,257.80 L93.12,257.33 L93.65,256.88 L94.18,256.44 L94.70,256.02 L95.22,255.60 L95.75,255.20 L96.28,254.81 L96.80,254.43 L97.33,254.07 L97.85,253.71 L98.38,253.37 L98.90,253.04 L99.43,252.73 L99.95,252.42 L100.47,252.13 L101.00,251.85 L101.53,251.58 L102.05,251.33 L102.58,251.08 L103.10,250.85 L103.62,250.63 L104.15,250.44 L104.68,250.26 L105.20,250.10 L105.72,249.96 L106.25,249.83 L106.78,249.72 L107.30,249.62 L107.83,249.54 L108.35,249.48 L108.88,249.42 L109.40,249.38 L109.93,249.35 L110.45,249.33 L110.97,249.32 L111.50,249.32 L113.60,249.45 L115.70,249.79 L117.80,250.33 L119.90,251.04 L122.00,251.89 L124.10,252.92 L126.20,254.13 L128.30,255.50 L130.40,256.99 L132.50,258.56 L134.60,260.21 L136.70,261.97 L138.80,263.85 L140.90,265.87 L143.00,268.03 L145.10,270.37 L147.20,272.85 L149.30,275.47 L151.40,278.21 L153.50,281.07 L155.60,284.04 L157.70,287.11 L159.80,290.27 L161.90,293.52 L164.00,296.85 L166.10,300.25 L168.20,303.90 L170.30,307.61 L172.40,311.36 L174.50,315.15 L176.60,318.97 L178.70,322.80 L180.80,326.65 L182.90,330.49 L185.00,334.32 L187.10,338.13 L189.20,341.91 L191.30,345.64 L193.40,349.33 L195.50,352.97 L197.60,356.53 L199.70,360.02 L201.80,363.42 L203.90,366.73 L206.00,369.94 L208.10,373.04 L210.20,376.02 L212.30,378.87 L214.40,381.60 L216.50,384.18 L218.60,386.62 L220.70,388.91 L222.80,391.03 L224.90,393.00 L227.00,394.80 L229.10,396.43 L231.20,397.88 L233.30,399.15 L235.40,400.24 L237.50,401.15 L239.60,401.86 L241.70,402.39 L243.80,402.73 L245.90,402.87 L248.00,402.82 L250.10,402.58 L252.20,402.15 L254.30,401.53 L256.40,400.72 L258.50,399.72 L260.60,398.54 L262.70,397.17 L264.80,395.63 L266.90,393.92 L269.00,392.03 L271.10,389.98 L273.20,387.77 L275.30,385.41 L277.40,382.89 L279.50,380.24 L281.60,377.45 L283.70,374.53 L285.80,371.49 L287.90,368.33 L290.00,365.07 L292.10,361.72 L294.20,358.27 L296.30,354.74 L298.40,351.14 L300.50,347.48 L302.60,343.76 L304.70,340.00 L306.80,336.21 L308.90,332.39 L311.00,328.55 L313.10,324.71 L315.20,320.87 L317.30,317.04 L319.40,313.24 L321.50,309.46 L323.60,305.73 L325.70,302.05 L327.80,298.43 L329.90,294.88 L332.00,291.40 L334.10,288.02 L336.20,284.72 L338.30,281.53 L340.40,278.45 L342.50,275.49 L344.60,272.66 L346.70,269.96 L348.80,267.40 L350.90,264.99 L353.00,262.73 L355.10,260.62 L357.20,258.68 L359.30,256.91 L361.40,255.31 L363.50,253.89 L365.60,252.65 L367.70,251.59 L369.80,250.72 L371.90,250.03 L374.00,249.54 L376.10,249.24 L378.20,249.13 L380.30,249.21 L382.40,249.48 L384.50,249.94 L386.60,250.60 L388.70,251.44 L390.80,252.47 L392.90,253.68 L395.00,255.07 L397.10,256.65 L399.20,258.39 L401.30,260.30 L403.40,262.38 L405.50,264.62 L407.60,267.01 L409.70,269.54 L411.80,272.22 L413.90,275.03 L416.00,277.97 L418.10,281.03 L420.20,284.21 L422.30,287.48 L424.40,290.86 L426.50,294.32 L428.60,297.86 L430.70,301.47 L432.80,305.14 L434.90,308.87 L437.00,312.63 L439.10,316.43 L441.20,320.26 L443.30,324.10 L445.40,327.94 L447.50,331.78 L449.60,335.60 L451.70,339.40 L453.80,343.17 L455.90,346.89 L458.00,350.56 L460.10,354.17 L462.20,357.71 L464.30,361.17 L466.40,364.55 L468.50,367.82 L470.60,370.99 L472.70,374.05 L474.80,376.99 L476.90,379.80 L479.00,382.48 L481.10,385.02 L483.20,387.40 L485.30,389.64 L487.40,391.72 L489.50,393.63 L491.60,395.37 L493.70,396.94 L495.80,398.33 L497.90,399.54 L500.00,400.57 L502.10,401.41 L504.20,402.06 L506.30,402.52 L508.40,402.80 L510.50,402.87 L512.60,402.76 L514.70,402.46 L516.80,401.96 L518.90,401.27 L521.00,400.40 L523.10,399.34 L525.20,398.10 L527.30,396.67 L529.40,395.07 L531.50,393.30 L533.60,391.36 L535.70,389.25 L537.80,386.99 L539.90,384.58 L542.00,382.02 L544.10,379.31 L546.20,376.48 L548.30,373.52 L550.40,370.44 L552.50,367.25 L554.60,363.96 L556.70,360.57 L558.80,357.09 L560.90,353.54 L563.00,349.92 L565.10,346.24 L567.20,342.50 L569.30,338.73 L571.40,334.93 L573.50,331.10 L575.60,327.26 L577.70,323.42 L579.80,319.58 L581.90,315.76 L584.00,311.96 L586.10,308.20 L588.20,304.49 L590.30,300.83 L592.40,297.23 L594.50,293.70 L596.60,290.25 L598.70,286.90 L600.80,283.64 L602.90,280.48 L605.00,277.44 L607.10,274.53 L609.20,271.74 L611.30,269.08 L613.40,266.57 L615.50,264.21 L617.60,262.00 L619.70,259.95 L621.80,258.07 L623.90,256.35 L626.00,254.82 L628.10,253.45 L630.20,252.27 L632.30,251.28 L634.40,250.47 L636.50,249.85 L638.60,249.42 L640.70,249.18 L642.80,249.13 L644.90,249.28 L647.00,249.61 L649.10,250.14 L651.20,250.86 L653.30,251.77 L655.40,252.86 L657.50,254.13 L659.60,255.58 L661.70,257.21 L663.80,259.01 L665.90,260.98 L668.00,263.11 L670.10,265.40 L672.20,267.84 L674.30,270.43 L676.40,273.15 L678.50,276.01" fill="none" stroke="#e60000" stroke-width="2.10" stroke-linejoin="round" clip-path="url(#c2)"/>
<path d="M48.50,326.00 L49.02,325.04 L49.55,324.08 L50.08,323.12 L50.60,322.16 L51.12,321.20 L51.65,320.24 L52.17,319.28 L52.70,318.33 L53.23,317.37 L53.75,316.42 L54.27,315.46 L54.80,314.51 L55.33,313.56 L55.85,312.62 L56.38,311.67 L56.90,310.73 L57.42,309.79 L57.95,308.85 L58.48,307.91 L59.00,306.98 L59.52,306.05 L60.05,305.12 L60.58,304.20 L61.10,303.28 L61.62,302.37 L62.15,301.45 L62.67,300.54 L63.20,299.64 L63.73,298.74 L64.25,297.84 L64.78,296.95 L65.30,296.06 L65.83,295.18 L66.35,294.30 L66.88,293.43 L67.40,292.56 L67.92,291.70 L68.45,290.84 L68.97,289.99 L69.50,289.14 L70.03,288.30 L70.55,287.47 L71.08,286.64 L71.60,285.82 L72.12,285.00 L72.65,284.19 L73.17,283.39 L73.70,282.59 L74.22,281.80 L74.75,281.02 L75.28,280.24 L75.80,279.48 L76.33,278.71 L76.85,277.96 L77.38,277.21 L77.90,276.48 L78.42,275.74 L78.95,275.02 L79.47,274.31 L80.00,273.60 L80.53,272.90 L81.05,272.21 L81.58,271.53 L82.10,270.85 L82.62,270.19 L83.15,269.53 L83.68,268.88 L84.20,268.25 L84.72,267.62 L85.25,267.00 L85.78,266.38 L86.30,265.78 L86.83,265.19 L87.35,264.61 L87.88,264.03 L88.40,263.47 L88.93,262.91 L89.45,262.37 L89.97,261.84 L90.50,261.31 L91.03,260.80 L91.55,260.29 L92.08,259.80 L92.60,259.32 L93.12,258.84 L93.65,258.38 L94.18,257.93 L94.70,257.49 L95.22,257.06 L95.75,256.64 L96.28,256.23 L96.80,255.83 L97.33,255.44 L97.85,255.07 L98.38,254.70 L98.90,254.35 L99.43,254.01 L99.95,253.68 L100.47,253.36 L101.00,253.05 L101.53,252.75 L102.05,252.46 L102.58,252.19 L103.10,251.93 L103.62,251.68 L104.15,251.44 L104.68,251.21 L105.20,250.99 L105.72,250.79 L106.25,250.59 L106.78,250.41 L107.30,250.24 L107.83,250.09 L108.35,249.94 L108.88,249.81 L109.40,249.69 L109.93,249.58 L110.45,249.48 L110.97,249.39 L111.50,249.32 L113.60,249.14 L115.70,249.16 L117.80,249.37 L119.90,249.77 L122.00,250.36 L124.10,251.14 L126.20,252.10 L128.30,253.25 L130.40,254.59 L132.50,256.10 L134.60,257.78 L136.70,259.64 L138.80,261.66 L140.90,263.85 L143.00,266.19 L145.10,268.67 L147.20,271.31 L149.30,274.07 L151.40,276.97 L153.50,279.99 L155.60,283.13 L157.70,286.37 L159.80,289.71 L161.90,293.15 L164.00,296.66 L166.10,300.25 L168.20,303.90 L170.30,307.61 L172.40,311.36 L174.50,315.15 L176.60,318.97 L178.70,322.80 L180.80,326.65 L182.90,330.49 L185.00,334.32 L187.10,338.13 L189.20,341.91 L191.30,345.64 L193.40,349.33 L195.50,352.97 L197.60,356.53 L199.70,360.02 L201.80,363.42 L203.90,366.73 L206.00,369.94 L208.10,373.04 L210.20,376.02 L212.30,378.87 L214.40,381.60 L216.50,384.18 L218.60,386.62 L220.70,388.91 L222.80,391.03 L224.90,393.00 L227.00,394.80 L229.10,396.43 L231.20,397.88 L233.30,399.15 L235.40,400.24 L237.50,401.15 L239.60,401.86 L241.70,402.39 L243.80,402.73 L245.90,402.87 L248.00,402.82 L250.10,402.58 L252.20,402.15 L254.30,401.53 L256.40,400.72 L258.50,399.72 L260.60,398.54 L262.70,397.17 L264.80,395.63 L266.90,393.92 L269.00,392.03 L271.10,389.98 L273.20,387.77 L275.30,385.41 L277.40,382.89 L279.50,380.24 L281.60,377.45 L283.70,374.53 L285.80,371.49 L287.90,368.33 L290.00,365.07 L292.10,361.72 L294.20,358.27 L296.30,354.74 L298.40,351.14 L300.50,347.48 L302.60,343.76 L304.70,340.00 L306.80,336.21 L308.90,332.39 L311.00,328.55 L313.10,324.71 L315.20,320.87 L317.30,317.04 L319.40,313.24 L321.50,309.46 L323.60,305.73 L325.70,302.05 L327.80,298.43 L329.90,294.88 L332.00,291.40 L334.10,288.02 L336.20,284.72 L338.30,281.53 L340.40,278.45 L342.50,275.49 L344.60,272.66 L346.70,269.96 L348.80,267.40 L350.90,264.99 L353.00,262.73 L355.10,260.62 L357.20,258.68 L359.30,256.91 L361.40,255.31 L363.50,253.89 L365.60,252.65 L367.70,251.59 L369.80,250.72 L371.90,250.03 L374.00,249.54 L376.10,249.24 L378.20,249.13 L380.30,249.21 L382.40,249.48 L384.50,249.94 L386.60,250.60 L388.70,251.44 L390.80,252.47 L392.90,253.68 L395.00,255.07 L397.10,256.65 L399.20,258.39 L401.30,260.30 L403.40,262.38 L405.50,264.62 L407.60,267.01 L409.70,269.54 L411.80,272.22 L413.90,275.03 L416.00,277.97 L418.10,281.03 L420.20,284.21 L422.30,287.48 L424.40,290.86 L426.50,294.32 L428.60,297.86 L430.70,301.47 L432.80,305.14 L434.90,308.87 L437.00,312.63 L439.10,316.43 L441.20,320.26 L443.30,324.10 L445.40,327.94 L447.50,331.78 L449.60,335.60 L451.70,339.40 L453.80,343.17 L455.90,346.89 L458.00,350.56 L460.10,354.17 L462.20,357.71 L464.30,361.17 L466.40,364.55 L468.50,367.82 L470.60,370.99 L472.70,374.05 L474.80,376.99 L476.90,379.80 L479.00,382.48 L481.10,385.02 L483.20,387.40 L485.30,389.64 L487.40,391.72 L489.50,393.63 L491.60,395.37 L493.70,396.94 L495.80,398.33 L497.90,399.54 L500.00,400.57 L502.10,401.41 L504.20,402.06 L506.30,402.52 L508.40,402.80 L510.50,402.87 L512.60,402.76 L514.70,402.46 L516.80,401.96 L518.90,401.27 L521.00,400.40 L523.10,399.34 L525.20,398.10 L527.30,396.67 L529.40,395.07 L531.50,393.30 L533.60,391.36 L535.70,389.25 L537.80,386.99 L539.90,384.58 L542.00,382.02 L544.10,379.31 L546.20,376.48 L548.30,373.52 L550.40,370.44 L552.50,367.25 L554.60,363.96 L556.70,360.57 L558.80,357.09 L560.90,353.54 L563.00,349.92 L565.10,346.24 L567.20,342.50 L569.30,338.73 L571.40,334.93 L573.50,331.10 L575.60,327.26 L577.70,323.42 L579.80,319.58 L581.90,315.76 L584.00,311.96 L586.10,308.20 L588.20,304.49 L590.30,300.83 L592.40,297.23 L594.50,293.70 L596.60,290.25 L598.70,286.90 L600.80,283.64 L602.90,280.48 L605.00,277.44 L607.10,274.53 L609.20,271.74 L611.30,269.08 L613.40,266.57 L615.50,264.21 L617.60,262.00 L619.70,259.95 L621.80,258.07 L623.90,256.35 L626.00,254.82 L628.10,253.45 L630.20,252.27 L632.30,251.28 L634.40,250.47 L636.50,249.85 L638.60,249.42 L640.70,249.18 L642.80,249.13 L644.90,249.28 L647.00,249.61 L649.10,250.14 L651.20,250.86 L653.30,251.77 L655.40,252.86 L657.50,254.13 L659.60,255.58 L661.70,257.21 L663.80,259.01 L665.90,260.98 L668.00,263.11 L670.10,265.40 L672.20,267.84 L674.30,270.43 L676.40,273.15 L678.50,276.01" fill="none" stroke="#0000e6" stroke-width="2.10" stroke-linejoin="round" clip-path="url(#c2)" stroke-dasharray="9 7.5"/>
<text class="tk" x="48.50" y="435.60" text-anchor="middle" font-size="13.5">0</text>
<text class="tk" x="153.50" y="435.60" text-anchor="middle" font-size="13.5">5</text>
<text class="tk" x="258.50" y="435.60" text-anchor="middle" font-size="13.5">10</text>
<text class="tk" x="363.50" y="435.60" text-anchor="middle" font-size="13.5">15</text>
<text class="tk" x="468.50" y="435.60" text-anchor="middle" font-size="13.5">20</text>
<text class="tk" x="573.50" y="435.60" text-anchor="middle" font-size="13.5">25</text>
<text class="tk" x="678.50" y="435.60" text-anchor="middle" font-size="13.5">30</text>
<text class="tk" x="44.10" y="423.15" text-anchor="end" font-size="13.5">-0.6</text>
<text class="tk" x="44.10" y="392.40" text-anchor="end" font-size="13.5">-0.4</text>
<text class="tk" x="44.10" y="361.65" text-anchor="end" font-size="13.5">-0.2</text>
<text class="tk" x="44.10" y="330.90" text-anchor="end" font-size="13.5">0</text>
<text class="tk" x="44.10" y="300.15" text-anchor="end" font-size="13.5">0.2</text>
<text class="tk" x="44.10" y="269.40" text-anchor="end" font-size="13.5">0.4</text>
<text class="ax" x="363.50" y="454.70" text-anchor="middle">Time(s)</text>
<text class="ax" style="font-size:17.4px" transform="translate(13.90,329.80) rotate(-90)" text-anchor="middle">y(m)</text>
<rect x="62.30" y="287.50" width="14.10" height="19.50" fill="none" stroke="#333" stroke-width="1"/>
<line x1="77.70" y1="301.70" x2="92.78" y2="317.78" stroke="#1a1a1a" stroke-width="0.9"/>
<path d="M100.30,325.80 L85.88,318.76 L92.78,317.78 L94.20,310.96 Z" fill="#000"/>
<rect x="205.40" y="362.10" width="21.00" height="29.10" fill="none" stroke="#333" stroke-width="1"/>
<line x1="232.10" y1="361.20" x2="300.44" y2="336.89" stroke="#1a1a1a" stroke-width="0.9"/>
<path d="M310.80,333.20 L298.58,343.60 L300.44,336.89 L294.76,332.86 Z" fill="#000"/>
<clipPath id="i2a"><rect x="131.30" y="279.10" width="105.60" height="62.70"/></clipPath>
<rect x="131.80" y="279.60" width="104.60" height="61.70" fill="#fff"/>
<line x1="135.30" y1="341.30" x2="135.30" y2="279.60" stroke="#e2e2e2" stroke-width="0.8" stroke-dasharray="3.2 2.46"/>
<line x1="178.05" y1="341.30" x2="178.05" y2="279.60" stroke="#e2e2e2" stroke-width="0.8" stroke-dasharray="3.2 2.46"/>
<line x1="220.80" y1="341.30" x2="220.80" y2="279.60" stroke="#e2e2e2" stroke-width="0.8" stroke-dasharray="3.2 2.46"/>
<line x1="131.80" y1="336.80" x2="236.40" y2="336.80" stroke="#e2e2e2" stroke-width="0.8" stroke-dasharray="3.2 2.46"/>
<line x1="131.80" y1="323.52" x2="236.40" y2="323.52" stroke="#e2e2e2" stroke-width="0.8" stroke-dasharray="3.2 2.46"/>
<line x1="131.80" y1="310.25" x2="236.40" y2="310.25" stroke="#e2e2e2" stroke-width="0.8" stroke-dasharray="3.2 2.46"/>
<line x1="131.80" y1="296.97" x2="236.40" y2="296.97" stroke="#e2e2e2" stroke-width="0.8" stroke-dasharray="3.2 2.46"/>
<line x1="131.80" y1="283.70" x2="236.40" y2="283.70" stroke="#e2e2e2" stroke-width="0.8" stroke-dasharray="3.2 2.46"/>
<rect x="131.80" y="279.60" width="104.60" height="61.70" fill="none" stroke="#484848" stroke-width="1.00"/>
<line x1="135.30" y1="341.30" x2="135.30" y2="339.30" stroke="#484848" stroke-width="1"/>
<line x1="135.30" y1="279.60" x2="135.30" y2="281.60" stroke="#484848" stroke-width="1"/>
<line x1="178.05" y1="341.30" x2="178.05" y2="339.30" stroke="#484848" stroke-width="1"/>
<line x1="178.05" y1="279.60" x2="178.05" y2="281.60" stroke="#484848" stroke-width="1"/>
<line x1="220.80" y1="341.30" x2="220.80" y2="339.30" stroke="#484848" stroke-width="1"/>
<line x1="220.80" y1="279.60" x2="220.80" y2="281.60" stroke="#484848" stroke-width="1"/>
<line x1="131.80" y1="336.80" x2="133.80" y2="336.80" stroke="#484848" stroke-width="1"/>
<line x1="236.40" y1="336.80" x2="234.40" y2="336.80" stroke="#484848" stroke-width="1"/>
<line x1="131.80" y1="323.52" x2="133.80" y2="323.52" stroke="#484848" stroke-width="1"/>
<line x1="236.40" y1="323.52" x2="234.40" y2="323.52" stroke="#484848" stroke-width="1"/>
<line x1="131.80" y1="310.25" x2="133.80" y2="310.25" stroke="#484848" stroke-width="1"/>
<line x1="236.40" y1="310.25" x2="234.40" y2="310.25" stroke="#484848" stroke-width="1"/>
<line x1="131.80" y1="296.97" x2="133.80" y2="296.97" stroke="#484848" stroke-width="1"/>
<line x1="236.40" y1="296.97" x2="234.40" y2="296.97" stroke="#484848" stroke-width="1"/>
<line x1="131.80" y1="283.70" x2="133.80" y2="283.70" stroke="#484848" stroke-width="1"/>
<line x1="236.40" y1="283.70" x2="234.40" y2="283.70" stroke="#484848" stroke-width="1"/>
<path d="M130.95,342.69 L132.14,344.75 L133.33,346.80 L134.53,348.81 L135.72,350.76 L136.92,352.61 L138.11,354.35 L139.31,355.94 L140.50,357.37 L141.70,358.59 L142.89,359.59 L144.08,360.35 L145.28,361.06 L146.47,361.77 L147.67,362.42 L148.86,362.97 L150.06,363.36 L151.25,363.52 L152.45,363.41 L153.64,362.96 L154.83,362.17 L156.03,361.31 L157.22,360.45 L158.42,359.58 L159.61,358.70 L160.81,357.82 L162.00,356.93 L163.20,356.02 L164.39,355.05 L165.59,353.83 L166.78,352.43 L167.97,350.93 L169.17,349.39 L170.36,347.91 L171.56,346.51 L172.75,345.10 L173.95,343.69 L175.14,342.27 L176.34,340.84 L177.53,339.42 L178.72,337.99 L179.92,336.56 L181.11,335.13 L182.31,333.70 L183.50,332.26 L184.70,330.81 L185.89,329.35 L187.09,327.89 L188.28,326.43 L189.48,324.98 L190.67,323.54 L191.86,322.12 L193.06,320.72 L194.25,319.35 L195.45,318.00 L196.64,316.65 L197.84,315.31 L199.03,313.99 L200.23,312.68 L201.42,311.38 L202.61,310.09 L203.81,308.81 L205.00,307.56 L206.20,306.31 L207.39,305.09 L208.59,303.88 L209.78,302.68 L210.98,301.50 L212.17,300.33 L213.37,299.17 L214.56,298.03 L215.75,296.89 L216.95,295.77 L218.14,294.65 L219.34,293.54 L220.53,292.44 L221.73,291.34 L222.92,290.25 L224.12,289.16 L225.31,288.09 L226.50,287.03 L227.70,285.98 L228.89,284.95 L230.09,283.95 L231.28,282.97 L232.48,282.00 L233.67,281.05 L234.87,280.10 L236.06,279.17 L237.25,278.24" fill="none" stroke="#00ee00" stroke-width="2.10" stroke-linejoin="round" clip-path="url(#i2a)"/>
<path d="M130.95,343.19 L132.14,345.11 L133.33,347.02 L134.53,348.89 L135.72,350.71 L136.92,352.44 L138.11,354.05 L139.31,355.53 L140.50,356.85 L141.70,357.98 L142.89,358.89 L144.08,359.57 L145.28,360.19 L146.47,360.82 L147.67,361.40 L148.86,361.88 L150.06,362.20 L151.25,362.31 L152.45,362.16 L153.64,361.69 L154.83,360.90 L156.03,360.05 L157.22,359.19 L158.42,358.32 L159.61,357.45 L160.81,356.57 L162.00,355.68 L163.20,354.78 L164.39,353.81 L165.59,352.61 L166.78,351.24 L167.97,349.76 L169.17,348.26 L170.36,346.82 L171.56,345.44 L172.75,344.06 L173.95,342.68 L175.14,341.29 L176.34,339.90 L177.53,338.50 L178.72,337.11 L179.92,335.71 L181.11,334.30 L182.31,332.90 L183.50,331.49 L184.70,330.06 L185.89,328.63 L187.09,327.19 L188.28,325.75 L189.48,324.32 L190.67,322.90 L191.86,321.49 L193.06,320.11 L194.25,318.75 L195.45,317.40 L196.64,316.05 L197.84,314.72 L199.03,313.40 L200.23,312.08 L201.42,310.78 L202.61,309.49 L203.81,308.22 L205.00,306.96 L206.20,305.71 L207.39,304.49 L208.59,303.28 L209.78,302.08 L210.98,300.90 L212.17,299.73 L213.37,298.57 L214.56,297.42 L215.75,296.29 L216.95,295.16 L218.14,294.05 L219.34,292.95 L220.53,291.86 L221.73,290.78 L222.92,289.71 L224.12,288.64 L225.31,287.59 L226.50,286.55 L227.70,285.53 L228.89,284.53 L230.09,283.56 L231.28,282.61 L232.48,281.67 L233.67,280.75 L234.87,279.84 L236.06,278.94 L237.25,278.05" fill="none" stroke="#ee00ee" stroke-width="2.10" stroke-linejoin="round" clip-path="url(#i2a)"/>
<path d="M130.95,351.98 L132.14,351.44 L133.33,350.92 L134.53,350.40 L135.72,349.90 L136.92,349.39 L138.11,348.88 L139.31,348.36 L140.50,347.83 L141.70,347.29 L142.89,346.72 L144.08,346.13 L145.28,345.51 L146.47,344.85 L147.67,344.16 L148.86,343.42 L150.06,342.64 L151.25,341.80 L152.45,340.90 L153.64,339.98 L154.83,339.04 L156.03,338.11 L157.22,337.17 L158.42,336.22 L159.61,335.27 L160.81,334.31 L162.00,333.36 L163.20,332.40 L164.39,331.44 L165.59,330.47 L166.78,329.51 L167.97,328.54 L169.17,327.58 L170.36,326.61 L171.56,325.64 L172.75,324.68 L173.95,323.71 L175.14,322.75 L176.34,321.79 L177.53,320.83 L178.72,319.88 L179.92,318.92 L181.11,317.96 L182.31,317.00 L183.50,316.03 L184.70,315.06 L185.89,314.09 L187.09,313.12 L188.28,312.15 L189.48,311.18 L190.67,310.21 L191.86,309.24 L193.06,308.27 L194.25,307.31 L195.45,306.34 L196.64,305.37 L197.84,304.41 L199.03,303.45 L200.23,302.50 L201.42,301.54 L202.61,300.60 L203.81,299.65 L205.00,298.71 L206.20,297.78 L207.39,296.85 L208.59,295.92 L209.78,295.01 L210.98,294.09 L212.17,293.19 L213.37,292.29 L214.56,291.40 L215.75,290.51 L216.95,289.62 L218.14,288.74 L219.34,287.86 L220.53,286.99 L221.73,286.12 L222.92,285.26 L224.12,284.40 L225.31,283.55 L226.50,282.70 L227.70,281.85 L228.89,281.01 L230.09,280.20 L231.28,279.42 L232.48,278.63 L233.67,277.85 L234.87,277.08 L236.06,276.31 L237.25,275.54" fill="none" stroke="#00eeee" stroke-width="2.10" stroke-linejoin="round" clip-path="url(#i2a)"/>
<path d="M130.95,344.61 L132.14,346.22 L133.33,347.77 L134.53,349.21 L135.72,350.52 L136.92,351.64 L138.11,352.55 L139.31,353.19 L140.50,353.54 L141.70,353.69 L142.89,353.69 L144.08,353.48 L145.28,353.02 L146.47,352.50 L147.67,351.94 L148.86,351.33 L150.06,350.64 L151.25,349.87 L152.45,349.00 L153.64,348.06 L154.83,347.10 L156.03,346.11 L157.22,345.11 L158.42,344.09 L159.61,343.06 L160.81,342.03 L162.00,340.99 L163.20,339.95 L164.39,338.88 L165.59,337.77 L166.78,336.64 L167.97,335.49 L169.17,334.32 L170.36,333.14 L171.56,331.94 L172.75,330.74 L173.95,329.53 L175.14,328.32 L176.34,327.12 L177.53,325.93 L178.72,324.74 L179.92,323.57 L181.11,322.42 L182.31,321.29 L183.50,320.15 L184.70,319.00 L185.89,317.86 L187.09,316.71 L188.28,315.57 L189.48,314.44 L190.67,313.30 L191.86,312.18 L193.06,311.06 L194.25,309.96 L195.45,308.86 L196.64,307.79 L197.84,306.72 L199.03,305.68 L200.23,304.65 L201.42,303.64 L202.61,302.66 L203.81,301.68 L205.00,300.72 L206.20,299.76 L207.39,298.81 L208.59,297.87 L209.78,296.94 L210.98,296.01 L212.17,295.09 L213.37,294.18 L214.56,293.26 L215.75,292.36 L216.95,291.45 L218.14,290.55 L219.34,289.65 L220.53,288.76 L221.73,287.86 L222.92,286.97 L224.12,286.08 L225.31,285.20 L226.50,284.32 L227.70,283.45 L228.89,282.58 L230.09,281.72 L231.28,280.87 L232.48,280.02 L233.67,279.17 L234.87,278.33 L236.06,277.50 L237.25,276.67" fill="none" stroke="#e60000" stroke-width="2.10" stroke-linejoin="round" clip-path="url(#i2a)"/>
<path d="M130.95,353.46 L132.14,352.53 L133.33,351.60 L134.53,350.67 L135.72,349.75 L136.92,348.82 L138.11,347.89 L139.31,346.97 L140.50,346.04 L141.70,345.11 L142.89,344.18 L144.08,343.26 L145.28,342.33 L146.47,341.41 L147.67,340.48 L148.86,339.56 L150.06,338.63 L151.25,337.71 L152.45,336.79 L153.64,335.86 L154.83,334.94 L156.03,334.02 L157.22,333.10 L158.42,332.18 L159.61,331.26 L160.81,330.35 L162.00,329.43 L163.20,328.51 L164.39,327.60 L165.59,326.69 L166.78,325.77 L167.97,324.86 L169.17,323.95 L170.36,323.05 L171.56,322.14 L172.75,321.23 L173.95,320.33 L175.14,319.42 L176.34,318.52 L177.53,317.62 L178.72,316.72 L179.92,315.83 L181.11,314.93 L182.31,314.04 L183.50,313.15 L184.70,312.26 L185.89,311.37 L187.09,310.48 L188.28,309.60 L189.48,308.72 L190.67,307.84 L191.86,306.96 L193.06,306.08 L194.25,305.21 L195.45,304.34 L196.64,303.47 L197.84,302.60 L199.03,301.74 L200.23,300.87 L201.42,300.01 L202.61,299.16 L203.81,298.30 L205.00,297.45 L206.20,296.60 L207.39,295.75 L208.59,294.91 L209.78,294.06 L210.98,293.23 L212.17,292.39 L213.37,291.56 L214.56,290.72 L215.75,289.90 L216.95,289.07 L218.14,288.25 L219.34,287.43 L220.53,286.61 L221.73,285.80 L222.92,284.99 L224.12,284.18 L225.31,283.38 L226.50,282.58 L227.70,281.78 L228.89,280.99 L230.09,280.20 L231.28,279.41 L232.48,278.63 L233.67,277.85 L234.87,277.07 L236.06,276.30 L237.25,275.53" fill="none" stroke="#0000e6" stroke-width="2.10" stroke-linejoin="round" clip-path="url(#i2a)" stroke-dasharray="9 7.5"/>
<text class="tk" x="135.30" y="358.70" text-anchor="middle" font-size="13.5">0</text>
<text class="tk" x="178.05" y="358.70" text-anchor="middle" font-size="13.5">0.5</text>
<text class="tk" x="220.80" y="358.70" text-anchor="middle" font-size="13.5">1</text>
<text class="tk" x="127.40" y="341.70" text-anchor="end" font-size="13.5">0.05</text>
<text class="tk" x="127.40" y="328.42" text-anchor="end" font-size="13.5">0.1</text>
<text class="tk" x="127.40" y="315.15" text-anchor="end" font-size="13.5">0.15</text>
<text class="tk" x="127.40" y="301.87" text-anchor="end" font-size="13.5">0.2</text>
<text class="tk" x="127.40" y="288.60" text-anchor="end" font-size="13.5">0.25</text>
<clipPath id="i2b"><rect x="316.90" y="279.00" width="82.70" height="52.60"/></clipPath>
<rect x="317.40" y="279.50" width="81.70" height="51.60" fill="#fff"/>
<line x1="323.60" y1="331.10" x2="323.60" y2="279.50" stroke="#e2e2e2" stroke-width="0.8" stroke-dasharray="3.2 2.46"/>
<line x1="361.50" y1="331.10" x2="361.50" y2="279.50" stroke="#e2e2e2" stroke-width="0.8" stroke-dasharray="3.2 2.46"/>
<line x1="317.40" y1="316.40" x2="399.10" y2="316.40" stroke="#e2e2e2" stroke-width="0.8" stroke-dasharray="3.2 2.46"/>
<line x1="317.40" y1="300.80" x2="399.10" y2="300.80" stroke="#e2e2e2" stroke-width="0.8" stroke-dasharray="3.2 2.46"/>
<line x1="317.40" y1="285.20" x2="399.10" y2="285.20" stroke="#e2e2e2" stroke-width="0.8" stroke-dasharray="3.2 2.46"/>
<rect x="317.40" y="279.50" width="81.70" height="51.60" fill="none" stroke="#484848" stroke-width="1.00"/>
<line x1="323.60" y1="331.10" x2="323.60" y2="329.10" stroke="#484848" stroke-width="1"/>
<line x1="323.60" y1="279.50" x2="323.60" y2="281.50" stroke="#484848" stroke-width="1"/>
<line x1="361.50" y1="331.10" x2="361.50" y2="329.10" stroke="#484848" stroke-width="1"/>
<line x1="361.50" y1="279.50" x2="361.50" y2="281.50" stroke="#484848" stroke-width="1"/>
<line x1="317.40" y1="316.40" x2="319.40" y2="316.40" stroke="#484848" stroke-width="1"/>
<line x1="399.10" y1="316.40" x2="397.10" y2="316.40" stroke="#484848" stroke-width="1"/>
<line x1="317.40" y1="300.80" x2="319.40" y2="300.80" stroke="#484848" stroke-width="1"/>
<line x1="399.10" y1="300.80" x2="397.10" y2="300.80" stroke="#484848" stroke-width="1"/>
<line x1="317.40" y1="285.20" x2="319.40" y2="285.20" stroke="#484848" stroke-width="1"/>
<line x1="399.10" y1="285.20" x2="397.10" y2="285.20" stroke="#484848" stroke-width="1"/>
<line x1="317.40" y1="294.00" x2="399.10" y2="298.10" stroke="#00ee00" stroke-width="2.10" clip-path="url(#i2b)"/>
<line x1="317.40" y1="298.60" x2="399.10" y2="302.80" stroke="#ee00ee" stroke-width="2.10" clip-path="url(#i2b)"/>
<line x1="317.40" y1="324.30" x2="399.10" y2="327.90" stroke="#00eeee" stroke-width="2.10" clip-path="url(#i2b)"/>
<line x1="317.40" y1="284.50" x2="399.10" y2="288.60" stroke="#e60000" stroke-width="2.10" clip-path="url(#i2b)"/>
<line x1="317.40" y1="284.50" x2="399.10" y2="288.60" stroke="#0000e6" stroke-width="2.10" clip-path="url(#i2b)" stroke-dasharray="9 7.5"/>
<text class="tk" x="323.60" y="348.50" text-anchor="middle" font-size="13.5">9.02</text>
<text class="tk" x="361.50" y="348.50" text-anchor="middle" font-size="13.5">9.04</text>
<text class="tk" x="313.00" y="321.30" text-anchor="end" font-size="13.5">-0.51</text>
<text class="tk" x="313.00" y="305.70" text-anchor="end" font-size="13.5">-0.5</text>
<text class="tk" x="313.00" y="290.10" text-anchor="end" font-size="13.5">-0.49</text>
<rect x="545.10" y="293.90" width="121.30" height="81.00" fill="#fff" stroke="#545454" stroke-width="1"/>
<line x1="549.70" y1="303.50" x2="593.60" y2="303.50" stroke="#0000e6" stroke-width="2.10" stroke-dasharray="9 8"/>
<text class="lg" x="597.60" y="308.20">Reference</text>
<line x1="549.70" y1="318.90" x2="593.60" y2="318.90" stroke="#00ee00" stroke-width="2.10"/>
<text class="lg" x="597.60" y="323.60">Controller 1</text>
<line x1="549.70" y1="334.40" x2="593.60" y2="334.40" stroke="#ee00ee" stroke-width="2.10"/>
<text class="lg" x="597.60" y="339.10">Controller 2</text>
<line x1="549.70" y1="349.90" x2="593.60" y2="349.90" stroke="#00eeee" stroke-width="2.10"/>
<text class="lg" x="597.60" y="354.60">Controller 3</text>
<line x1="549.70" y1="365.40" x2="593.60" y2="365.40" stroke="#e60000" stroke-width="2.10"/>
<text class="lg" x="597.60" y="370.10">Controller 4</text>
<clipPath id="c3"><rect x="48.00" y="479.90" width="631.00" height="179.20"/></clipPath>
<line x1="153.50" y1="658.60" x2="153.50" y2="480.40" stroke="#e2e2e2" stroke-width="0.8" stroke-dasharray="3.2 2.46"/>
<line x1="258.50" y1="658.60" x2="258.50" y2="480.40" stroke="#e2e2e2" stroke-width="0.8" stroke-dasharray="3.2 2.46"/>
<line x1="363.50" y1="658.60" x2="363.50" y2="480.40" stroke="#e2e2e2" stroke-width="0.8" stroke-dasharray="3.2 2.46"/>
<line x1="468.50" y1="658.60" x2="468.50" y2="480.40" stroke="#e2e2e2" stroke-width="0.8" stroke-dasharray="3.2 2.46"/>
<line x1="573.50" y1="658.60" x2="573.50" y2="480.40" stroke="#e2e2e2" stroke-width="0.8" stroke-dasharray="3.2 2.46"/>
<line x1="48.50" y1="626.32" x2="678.50" y2="626.32" stroke="#e2e2e2" stroke-width="0.8" stroke-dasharray="3.2 2.46"/>
<line x1="48.50" y1="594.04" x2="678.50" y2="594.04" stroke="#e2e2e2" stroke-width="0.8" stroke-dasharray="3.2 2.46"/>
<line x1="48.50" y1="561.76" x2="678.50" y2="561.76" stroke="#e2e2e2" stroke-width="0.8" stroke-dasharray="3.2 2.46"/>
<line x1="48.50" y1="529.48" x2="678.50" y2="529.48" stroke="#e2e2e2" stroke-width="0.8" stroke-dasharray="3.2 2.46"/>
<line x1="48.50" y1="497.20" x2="678.50" y2="497.20" stroke="#e2e2e2" stroke-width="0.8" stroke-dasharray="3.2 2.46"/>
<rect x="48.50" y="480.40" width="630.00" height="178.20" fill="none" stroke="#545454" stroke-width="1.00"/>
<line x1="48.50" y1="658.60" x2="48.50" y2="652.30" stroke="#545454" stroke-width="1"/>
<line x1="48.50" y1="480.40" x2="48.50" y2="486.70" stroke="#545454" stroke-width="1"/>
<line x1="153.50" y1="658.60" x2="153.50" y2="652.30" stroke="#545454" stroke-width="1"/>
<line x1="153.50" y1="480.40" x2="153.50" y2="486.70" stroke="#545454" stroke-width="1"/>
<line x1="258.50" y1="658.60" x2="258.50" y2="652.30" stroke="#545454" stroke-width="1"/>
<line x1="258.50" y1="480.40" x2="258.50" y2="486.70" stroke="#545454" stroke-width="1"/>
<line x1="363.50" y1="658.60" x2="363.50" y2="652.30" stroke="#545454" stroke-width="1"/>
<line x1="363.50" y1="480.40" x2="363.50" y2="486.70" stroke="#545454" stroke-width="1"/>
<line x1="468.50" y1="658.60" x2="468.50" y2="652.30" stroke="#545454" stroke-width="1"/>
<line x1="468.50" y1="480.40" x2="468.50" y2="486.70" stroke="#545454" stroke-width="1"/>
<line x1="573.50" y1="658.60" x2="573.50" y2="652.30" stroke="#545454" stroke-width="1"/>
<line x1="573.50" y1="480.40" x2="573.50" y2="486.70" stroke="#545454" stroke-width="1"/>
<line x1="678.50" y1="658.60" x2="678.50" y2="652.30" stroke="#545454" stroke-width="1"/>
<line x1="678.50" y1="480.40" x2="678.50" y2="486.70" stroke="#545454" stroke-width="1"/>
<line x1="48.50" y1="658.60" x2="54.80" y2="658.60" stroke="#545454" stroke-width="1"/>
<line x1="678.50" y1="658.60" x2="672.20" y2="658.60" stroke="#545454" stroke-width="1"/>
<line x1="48.50" y1="626.32" x2="54.80" y2="626.32" stroke="#545454" stroke-width="1"/>
<line x1="678.50" y1="626.32" x2="672.20" y2="626.32" stroke="#545454" stroke-width="1"/>
<line x1="48.50" y1="594.04" x2="54.80" y2="594.04" stroke="#545454" stroke-width="1"/>
<line x1="678.50" y1="594.04" x2="672.20" y2="594.04" stroke="#545454" stroke-width="1"/>
<line x1="48.50" y1="561.76" x2="54.80" y2="561.76" stroke="#545454" stroke-width="1"/>
<line x1="678.50" y1="561.76" x2="672.20" y2="561.76" stroke="#545454" stroke-width="1"/>
<line x1="48.50" y1="529.48" x2="54.80" y2="529.48" stroke="#545454" stroke-width="1"/>
<line x1="678.50" y1="529.48" x2="672.20" y2="529.48" stroke="#545454" stroke-width="1"/>
<line x1="48.50" y1="497.20" x2="54.80" y2="497.20" stroke="#545454" stroke-width="1"/>
<line x1="678.50" y1="497.20" x2="672.20" y2="497.20" stroke="#545454" stroke-width="1"/>
<path d="M48.50,658.60 L49.02,654.01 L49.55,649.33 L50.08,644.57 L50.60,639.77 L51.12,634.96 L51.65,630.15 L52.17,625.36 L52.70,620.57 L53.23,615.75 L53.75,610.95 L54.27,606.17 L54.80,601.45 L55.33,596.79 L55.85,592.21 L56.38,587.63 L56.90,583.08 L57.42,578.61 L57.95,574.29 L58.48,570.14 L59.00,566.19 L59.52,562.47 L60.05,558.97 L60.58,555.61 L61.10,552.40 L61.62,549.35 L62.15,546.45 L62.67,543.71 L63.20,541.13 L63.73,538.71 L64.25,536.52 L64.78,534.45 L65.30,532.39 L65.83,530.27 L66.35,528.03 L66.88,525.67 L67.40,523.31 L67.92,521.04 L68.45,518.91 L68.97,516.99 L69.50,515.28 L70.03,513.74 L70.55,512.31 L71.08,511.00 L71.60,509.80 L72.12,508.71 L72.65,507.73 L73.17,506.84 L73.70,506.05 L74.22,505.33 L74.75,504.67 L75.28,504.06 L75.80,503.51 L76.33,503.01 L76.85,502.57 L77.38,502.18 L77.90,501.85 L78.42,501.56 L78.95,501.33 L79.47,501.13 L80.00,500.95 L80.53,500.78 L81.05,500.59 L81.58,500.39 L82.10,500.17 L82.62,499.94 L83.15,499.71 L83.68,499.51 L84.20,499.32 L84.72,499.15 L85.25,498.99 L85.78,498.84 L86.30,498.70 L86.83,498.58 L87.35,498.46 L87.88,498.35 L88.40,498.26 L88.93,498.17 L89.45,498.09 L89.97,498.01 L90.50,497.95 L91.03,497.89 L91.55,497.84 L92.08,497.79 L92.60,497.75 L93.12,497.71 L93.65,497.68 L94.18,497.65 L94.70,497.63 L95.22,497.61 L95.75,497.59 L96.28,497.58 L96.80,497.57 L97.33,497.56 L97.85,497.55 L98.38,497.54 L98.90,497.53 L99.43,497.52 L99.95,497.51 L100.47,497.50 L101.00,497.49 L101.53,497.48 L102.05,497.47 L102.58,497.46 L103.10,497.45 L103.62,497.44 L104.15,497.44 L104.68,497.43 L105.20,497.42 L105.72,497.41 L106.25,497.40 L106.78,497.39 L107.30,497.38 L107.83,497.38 L108.35,497.37 L108.88,497.36 L109.40,497.35 L109.93,497.35 L110.45,497.34 L110.97,497.33 L111.50,497.33 L113.60,497.31 L115.70,497.29 L117.80,497.27 L119.90,497.26 L122.00,497.25 L124.10,497.24 L126.20,497.23 L128.30,497.23 L130.40,497.22 L132.50,497.22 L134.60,497.21 L136.70,497.21 L138.80,497.21 L140.90,497.21 L143.00,497.21 L145.10,497.20 L147.20,497.20 L149.30,497.20 L151.40,497.20 L153.50,497.20 L155.60,497.20 L157.70,497.20 L159.80,497.20 L161.90,497.20 L164.00,497.20 L166.10,497.20 L168.20,497.20 L170.30,497.20 L172.40,497.20 L174.50,497.20 L176.60,497.20 L178.70,497.20 L180.80,497.20 L182.90,497.20 L185.00,497.20 L187.10,497.20 L189.20,497.20 L191.30,497.20 L193.40,497.20 L195.50,497.20 L197.60,497.20 L199.70,497.20 L201.80,497.20 L203.90,497.20 L206.00,497.20 L208.10,497.20 L210.20,497.20 L212.30,497.20 L214.40,497.20 L216.50,497.20 L218.60,497.20 L220.70,497.20 L222.80,497.20 L224.90,497.20 L227.00,497.20 L229.10,497.20 L231.20,497.20 L233.30,497.20 L235.40,497.20 L237.50,497.20 L239.60,497.20 L241.70,497.20 L243.80,497.20 L245.90,497.20 L248.00,497.20 L250.10,497.20 L252.20,497.20 L254.30,497.20 L256.40,497.20 L258.50,497.20 L260.60,497.20 L262.70,497.20 L264.80,497.20 L266.90,497.20 L269.00,497.20 L271.10,497.20 L273.20,497.20 L275.30,497.20 L277.40,497.20 L279.50,497.20 L281.60,497.20 L283.70,497.20 L285.80,497.20 L287.90,497.20 L290.00,497.20 L292.10,497.20 L294.20,497.20 L296.30,497.20 L298.40,497.20 L300.50,497.20 L302.60,497.20 L304.70,497.20 L306.80,497.20 L308.90,497.20 L311.00,497.20 L313.10,497.20 L315.20,497.20 L317.30,497.20 L319.40,497.20 L321.50,497.20 L323.60,497.20 L325.70,497.20 L327.80,497.20 L329.90,497.20 L332.00,497.20 L334.10,497.20 L336.20,497.20 L338.30,497.20 L340.40,497.20 L342.50,497.20 L344.60,497.20 L346.70,497.20 L348.80,497.20 L350.90,497.20 L353.00,497.20 L355.10,497.20 L357.20,497.20 L359.30,497.20 L361.40,497.20 L363.50,497.20 L365.60,497.20 L367.70,497.20 L369.80,497.20 L371.90,497.20 L374.00,497.20 L376.10,497.20 L378.20,497.20 L380.30,497.20 L382.40,497.20 L384.50,497.20 L386.60,497.20 L388.70,497.20 L390.80,497.20 L392.90,497.20 L395.00,497.20 L397.10,497.20 L399.20,497.20 L401.30,497.20 L403.40,497.20 L405.50,497.20 L407.60,497.20 L409.70,497.20 L411.80,497.20 L413.90,497.20 L416.00,497.20 L418.10,497.20 L420.20,497.20 L422.30,497.20 L424.40,497.20 L426.50,497.20 L428.60,497.20 L430.70,497.20 L432.80,497.20 L434.90,497.20 L437.00,497.20 L439.10,497.20 L441.20,497.20 L443.30,497.20 L445.40,497.20 L447.50,497.20 L449.60,497.20 L451.70,497.20 L453.80,497.20 L455.90,497.20 L458.00,497.20 L460.10,497.20 L462.20,497.20 L464.30,497.20 L466.40,497.20 L468.50,497.20 L470.60,497.20 L472.70,497.20 L474.80,497.20 L476.90,497.20 L479.00,497.20 L481.10,497.20 L483.20,497.20 L485.30,497.20 L487.40,497.20 L489.50,497.20 L491.60,497.20 L493.70,497.20 L495.80,497.20 L497.90,497.20 L500.00,497.20 L502.10,497.20 L504.20,497.20 L506.30,497.20 L508.40,497.20 L510.50,497.20 L512.60,497.20 L514.70,497.20 L516.80,497.20 L518.90,497.20 L521.00,497.20 L523.10,497.20 L525.20,497.20 L527.30,497.20 L529.40,497.20 L531.50,497.20 L533.60,497.20 L535.70,497.20 L537.80,497.20 L539.90,497.20 L542.00,497.20 L544.10,497.20 L546.20,497.20 L548.30,497.20 L550.40,497.20 L552.50,497.20 L554.60,497.20 L556.70,497.20 L558.80,497.20 L560.90,497.20 L563.00,497.20 L565.10,497.20 L567.20,497.20 L569.30,497.20 L571.40,497.20 L573.50,497.20 L575.60,497.20 L577.70,497.20 L579.80,497.20 L581.90,497.20 L584.00,497.20 L586.10,497.20 L588.20,497.20 L590.30,497.20 L592.40,497.20 L594.50,497.20 L596.60,497.20 L598.70,497.20 L600.80,497.20 L602.90,497.20 L605.00,497.20 L607.10,497.20 L609.20,497.20 L611.30,497.20 L613.40,497.20 L615.50,497.20 L617.60,497.20 L619.70,497.20 L621.80,497.20 L623.90,497.20 L626.00,497.20 L628.10,497.20 L630.20,497.20 L632.30,497.20 L634.40,497.20 L636.50,497.20 L638.60,497.20 L640.70,497.20 L642.80,497.20 L644.90,497.20 L647.00,497.20 L649.10,497.20 L651.20,497.20 L653.30,497.20 L655.40,497.20 L657.50,497.20 L659.60,497.20 L661.70,497.20 L663.80,497.20 L665.90,497.20 L668.00,497.20 L670.10,497.20 L672.20,497.20 L674.30,497.20 L676.40,497.20 L678.50,497.20" fill="none" stroke="#00ee00" stroke-width="2.10" stroke-linejoin="round" clip-path="url(#c3)"/>
<path d="M48.50,658.60 L49.02,654.01 L49.55,649.33 L50.08,644.57 L50.60,639.77 L51.12,634.96 L51.65,630.15 L52.17,625.36 L52.70,620.57 L53.23,615.75 L53.75,610.95 L54.27,606.17 L54.80,601.45 L55.33,596.79 L55.85,592.21 L56.38,587.63 L56.90,583.08 L57.42,578.61 L57.95,574.29 L58.48,570.14 L59.00,566.19 L59.52,562.47 L60.05,558.97 L60.58,555.61 L61.10,552.40 L61.62,549.35 L62.15,546.45 L62.67,543.71 L63.20,541.13 L63.73,538.71 L64.25,536.52 L64.78,534.45 L65.30,532.39 L65.83,530.27 L66.35,528.03 L66.88,525.67 L67.40,523.31 L67.92,521.04 L68.45,518.91 L68.97,516.99 L69.50,515.28 L70.03,513.75 L70.55,512.34 L71.08,511.05 L71.60,509.86 L72.12,508.78 L72.65,507.79 L73.17,506.89 L73.70,506.06 L74.22,505.30 L74.75,504.58 L75.28,503.91 L75.80,503.30 L76.33,502.75 L76.85,502.27 L77.38,501.86 L77.90,501.52 L78.42,501.24 L78.95,501.03 L79.47,500.85 L80.00,500.68 L80.53,500.50 L81.05,500.31 L81.58,500.11 L82.10,499.91 L82.62,499.72 L83.15,499.54 L83.68,499.36 L84.20,499.19 L84.72,499.03 L85.25,498.87 L85.78,498.73 L86.30,498.61 L86.83,498.49 L87.35,498.38 L87.88,498.29 L88.40,498.20 L88.93,498.13 L89.45,498.06 L89.97,498.01 L90.50,497.96 L91.03,497.91 L91.55,497.87 L92.08,497.83 L92.60,497.80 L93.12,497.77 L93.65,497.75 L94.18,497.74 L94.70,497.72 L95.22,497.71 L95.75,497.71 L96.28,497.71 L96.80,497.71 L97.33,497.71 L97.85,497.71 L98.38,497.71 L98.90,497.71 L99.43,497.71 L99.95,497.71 L100.47,497.71 L101.00,497.72 L101.53,497.72 L102.05,497.73 L102.58,497.73 L103.10,497.73 L103.62,497.73 L104.15,497.73 L104.68,497.72 L105.20,497.71 L105.72,497.71 L106.25,497.70 L106.78,497.69 L107.30,497.67 L107.83,497.66 L108.35,497.65 L108.88,497.63 L109.40,497.62 L109.93,497.60 L110.45,497.59 L110.97,497.57 L111.50,497.56 L113.60,497.50 L115.70,497.44 L117.80,497.40 L119.90,497.36 L122.00,497.33 L124.10,497.31 L126.20,497.28 L128.30,497.27 L130.40,497.25 L132.50,497.24 L134.60,497.23 L136.70,497.22 L138.80,497.22 L140.90,497.21 L143.00,497.21 L145.10,497.21 L147.20,497.20 L149.30,497.20 L151.40,497.20 L153.50,497.20 L155.60,497.20 L157.70,497.20 L159.80,497.20 L161.90,497.20 L164.00,497.20 L166.10,497.20 L168.20,497.20 L170.30,497.20 L172.40,497.20 L174.50,497.20 L176.60,497.20 L178.70,497.20 L180.80,497.20 L182.90,497.20 L185.00,497.20 L187.10,497.20 L189.20,497.20 L191.30,497.20 L193.40,497.20 L195.50,497.20 L197.60,497.20 L199.70,497.20 L201.80,497.20 L203.90,497.20 L206.00,497.20 L208.10,497.20 L210.20,497.20 L212.30,497.20 L214.40,497.20 L216.50,497.20 L218.60,497.20 L220.70,497.20 L222.80,497.20 L224.90,497.20 L227.00,497.20 L229.10,497.20 L231.20,497.20 L233.30,497.20 L235.40,497.20 L237.50,497.20 L239.60,497.20 L241.70,497.20 L243.80,497.20 L245.90,497.20 L248.00,497.20 L250.10,497.20 L252.20,497.20 L254.30,497.20 L256.40,497.20 L258.50,497.20 L260.60,497.20 L262.70,497.20 L264.80,497.20 L266.90,497.20 L269.00,497.20 L271.10,497.20 L273.20,497.20 L275.30,497.20 L277.40,497.20 L279.50,497.20 L281.60,497.20 L283.70,497.20 L285.80,497.20 L287.90,497.20 L290.00,497.20 L292.10,497.20 L294.20,497.20 L296.30,497.20 L298.40,497.20 L300.50,497.20 L302.60,497.20 L304.70,497.20 L306.80,497.20 L308.90,497.20 L311.00,497.20 L313.10,497.20 L315.20,497.20 L317.30,497.20 L319.40,497.20 L321.50,497.20 L323.60,497.20 L325.70,497.20 L327.80,497.20 L329.90,497.20 L332.00,497.20 L334.10,497.20 L336.20,497.20 L338.30,497.20 L340.40,497.20 L342.50,497.20 L344.60,497.20 L346.70,497.20 L348.80,497.20 L350.90,497.20 L353.00,497.20 L355.10,497.20 L357.20,497.20 L359.30,497.20 L361.40,497.20 L363.50,497.20 L365.60,497.20 L367.70,497.20 L369.80,497.20 L371.90,497.20 L374.00,497.20 L376.10,497.20 L378.20,497.20 L380.30,497.20 L382.40,497.20 L384.50,497.20 L386.60,497.20 L388.70,497.20 L390.80,497.20 L392.90,497.20 L395.00,497.20 L397.10,497.20 L399.20,497.20 L401.30,497.20 L403.40,497.20 L405.50,497.20 L407.60,497.20 L409.70,497.20 L411.80,497.20 L413.90,497.20 L416.00,497.20 L418.10,497.20 L420.20,497.20 L422.30,497.20 L424.40,497.20 L426.50,497.20 L428.60,497.20 L430.70,497.20 L432.80,497.20 L434.90,497.20 L437.00,497.20 L439.10,497.20 L441.20,497.20 L443.30,497.20 L445.40,497.20 L447.50,497.20 L449.60,497.20 L451.70,497.20 L453.80,497.20 L455.90,497.20 L458.00,497.20 L460.10,497.20 L462.20,497.20 L464.30,497.20 L466.40,497.20 L468.50,497.20 L470.60,497.20 L472.70,497.20 L474.80,497.20 L476.90,497.20 L479.00,497.20 L481.10,497.20 L483.20,497.20 L485.30,497.20 L487.40,497.20 L489.50,497.20 L491.60,497.20 L493.70,497.20 L495.80,497.20 L497.90,497.20 L500.00,497.20 L502.10,497.20 L504.20,497.20 L506.30,497.20 L508.40,497.20 L510.50,497.20 L512.60,497.20 L514.70,497.20 L516.80,497.20 L518.90,497.20 L521.00,497.20 L523.10,497.20 L525.20,497.20 L527.30,497.20 L529.40,497.20 L531.50,497.20 L533.60,497.20 L535.70,497.20 L537.80,497.20 L539.90,497.20 L542.00,497.20 L544.10,497.20 L546.20,497.20 L548.30,497.20 L550.40,497.20 L552.50,497.20 L554.60,497.20 L556.70,497.20 L558.80,497.20 L560.90,497.20 L563.00,497.20 L565.10,497.20 L567.20,497.20 L569.30,497.20 L571.40,497.20 L573.50,497.20 L575.60,497.20 L577.70,497.20 L579.80,497.20 L581.90,497.20 L584.00,497.20 L586.10,497.20 L588.20,497.20 L590.30,497.20 L592.40,497.20 L594.50,497.20 L596.60,497.20 L598.70,497.20 L600.80,497.20 L602.90,497.20 L605.00,497.20 L607.10,497.20 L609.20,497.20 L611.30,497.20 L613.40,497.20 L615.50,497.20 L617.60,497.20 L619.70,497.20 L621.80,497.20 L623.90,497.20 L626.00,497.20 L628.10,497.20 L630.20,497.20 L632.30,497.20 L634.40,497.20 L636.50,497.20 L638.60,497.20 L640.70,497.20 L642.80,497.20 L644.90,497.20 L647.00,497.20 L649.10,497.20 L651.20,497.20 L653.30,497.20 L655.40,497.20 L657.50,497.20 L659.60,497.20 L661.70,497.20 L663.80,497.20 L665.90,497.20 L668.00,497.20 L670.10,497.20 L672.20,497.20 L674.30,497.20 L676.40,497.20 L678.50,497.20" fill="none" stroke="#ee00ee" stroke-width="2.10" stroke-linejoin="round" clip-path="url(#c3)"/>
<path d="M48.50,658.60 L49.02,654.01 L49.55,649.33 L50.08,644.57 L50.60,639.77 L51.12,634.96 L51.65,630.15 L52.17,625.36 L52.70,620.57 L53.23,615.75 L53.75,610.95 L54.27,606.17 L54.80,601.45 L55.33,596.79 L55.85,592.21 L56.38,587.63 L56.90,583.08 L57.42,578.61 L57.95,574.29 L58.48,570.14 L59.00,566.19 L59.52,562.47 L60.05,558.97 L60.58,555.61 L61.10,552.40 L61.62,549.35 L62.15,546.45 L62.67,543.71 L63.20,541.13 L63.73,538.71 L64.25,536.52 L64.78,534.45 L65.30,532.39 L65.83,530.27 L66.35,528.03 L66.88,525.67 L67.40,523.31 L67.92,521.04 L68.45,518.91 L68.97,516.99 L69.50,515.28 L70.03,513.74 L70.55,512.33 L71.08,511.04 L71.60,509.85 L72.12,508.76 L72.65,507.77 L73.17,506.88 L73.70,506.06 L74.22,505.31 L74.75,504.60 L75.28,503.95 L75.80,503.35 L76.33,502.81 L76.85,502.34 L77.38,501.94 L77.90,501.60 L78.42,501.33 L78.95,501.11 L79.47,500.93 L80.00,500.77 L80.53,500.60 L81.05,500.40 L81.58,500.18 L82.10,499.95 L82.62,499.72 L83.15,499.51 L83.68,499.31 L84.20,499.14 L84.72,498.97 L85.25,498.82 L85.78,498.67 L86.30,498.54 L86.83,498.42 L87.35,498.30 L87.88,498.20 L88.40,498.11 L88.93,498.03 L89.45,497.96 L89.97,497.90 L90.50,497.84 L91.03,497.79 L91.55,497.74 L92.08,497.70 L92.60,497.66 L93.12,497.62 L93.65,497.58 L94.18,497.55 L94.70,497.52 L95.22,497.49 L95.75,497.47 L96.28,497.45 L96.80,497.44 L97.33,497.43 L97.85,497.42 L98.38,497.41 L98.90,497.40 L99.43,497.40 L99.95,497.39 L100.47,497.38 L101.00,497.37 L101.53,497.36 L102.05,497.36 L102.58,497.35 L103.10,497.34 L103.62,497.34 L104.15,497.33 L104.68,497.33 L105.20,497.32 L105.72,497.32 L106.25,497.31 L106.78,497.31 L107.30,497.30 L107.83,497.30 L108.35,497.29 L108.88,497.29 L109.40,497.29 L109.93,497.28 L110.45,497.28 L110.97,497.28 L111.50,497.27 L113.60,497.26 L115.70,497.25 L117.80,497.25 L119.90,497.24 L122.00,497.23 L124.10,497.23 L126.20,497.22 L128.30,497.22 L130.40,497.22 L132.50,497.21 L134.60,497.21 L136.70,497.21 L138.80,497.21 L140.90,497.21 L143.00,497.20 L145.10,497.20 L147.20,497.20 L149.30,497.20 L151.40,497.20 L153.50,497.20 L155.60,497.20 L157.70,497.20 L159.80,497.20 L161.90,497.20 L164.00,497.20 L166.10,497.20 L168.20,497.20 L170.30,497.20 L172.40,497.20 L174.50,497.20 L176.60,497.20 L178.70,497.20 L180.80,497.20 L182.90,497.20 L185.00,497.20 L187.10,497.20 L189.20,497.20 L191.30,497.20 L193.40,497.20 L195.50,497.20 L197.60,497.20 L199.70,497.20 L201.80,497.20 L203.90,497.20 L206.00,497.20 L208.10,497.20 L210.20,497.20 L212.30,497.20 L214.40,497.20 L216.50,497.20 L218.60,497.20 L220.70,497.20 L222.80,497.20 L224.90,497.20 L227.00,497.20 L229.10,497.20 L231.20,497.20 L233.30,497.20 L235.40,497.20 L237.50,497.20 L239.60,497.20 L241.70,497.20 L243.80,497.20 L245.90,497.20 L248.00,497.20 L250.10,497.20 L252.20,497.20 L254.30,497.20 L256.40,497.20 L258.50,497.20 L260.60,497.20 L262.70,497.20 L264.80,497.20 L266.90,497.20 L269.00,497.20 L271.10,497.20 L273.20,497.20 L275.30,497.20 L277.40,497.20 L279.50,497.20 L281.60,497.20 L283.70,497.20 L285.80,497.20 L287.90,497.20 L290.00,497.20 L292.10,497.20 L294.20,497.20 L296.30,497.20 L298.40,497.20 L300.50,497.20 L302.60,497.20 L304.70,497.20 L306.80,497.20 L308.90,497.20 L311.00,497.20 L313.10,497.20 L315.20,497.20 L317.30,497.20 L319.40,497.20 L321.50,497.20 L323.60,497.20 L325.70,497.20 L327.80,497.20 L329.90,497.20 L332.00,497.20 L334.10,497.20 L336.20,497.20 L338.30,497.20 L340.40,497.20 L342.50,497.20 L344.60,497.20 L346.70,497.20 L348.80,497.20 L350.90,497.20 L353.00,497.20 L355.10,497.20 L357.20,497.20 L359.30,497.20 L361.40,497.20 L363.50,497.20 L365.60,497.20 L367.70,497.20 L369.80,497.20 L371.90,497.20 L374.00,497.20 L376.10,497.20 L378.20,497.20 L380.30,497.20 L382.40,497.20 L384.50,497.20 L386.60,497.20 L388.70,497.20 L390.80,497.20 L392.90,497.20 L395.00,497.20 L397.10,497.20 L399.20,497.20 L401.30,497.20 L403.40,497.20 L405.50,497.20 L407.60,497.20 L409.70,497.20 L411.80,497.20 L413.90,497.20 L416.00,497.20 L418.10,497.20 L420.20,497.20 L422.30,497.20 L424.40,497.20 L426.50,497.20 L428.60,497.20 L430.70,497.20 L432.80,497.20 L434.90,497.20 L437.00,497.20 L439.10,497.20 L441.20,497.20 L443.30,497.20 L445.40,497.20 L447.50,497.20 L449.60,497.20 L451.70,497.20 L453.80,497.20 L455.90,497.20 L458.00,497.20 L460.10,497.20 L462.20,497.20 L464.30,497.20 L466.40,497.20 L468.50,497.20 L470.60,497.20 L472.70,497.20 L474.80,497.20 L476.90,497.20 L479.00,497.20 L481.10,497.20 L483.20,497.20 L485.30,497.20 L487.40,497.20 L489.50,497.20 L491.60,497.20 L493.70,497.20 L495.80,497.20 L497.90,497.20 L500.00,497.20 L502.10,497.20 L504.20,497.20 L506.30,497.20 L508.40,497.20 L510.50,497.20 L512.60,497.20 L514.70,497.20 L516.80,497.20 L518.90,497.20 L521.00,497.20 L523.10,497.20 L525.20,497.20 L527.30,497.20 L529.40,497.20 L531.50,497.20 L533.60,497.20 L535.70,497.20 L537.80,497.20 L539.90,497.20 L542.00,497.20 L544.10,497.20 L546.20,497.20 L548.30,497.20 L550.40,497.20 L552.50,497.20 L554.60,497.20 L556.70,497.20 L558.80,497.20 L560.90,497.20 L563.00,497.20 L565.10,497.20 L567.20,497.20 L569.30,497.20 L571.40,497.20 L573.50,497.20 L575.60,497.20 L577.70,497.20 L579.80,497.20 L581.90,497.20 L584.00,497.20 L586.10,497.20 L588.20,497.20 L590.30,497.20 L592.40,497.20 L594.50,497.20 L596.60,497.20 L598.70,497.20 L600.80,497.20 L602.90,497.20 L605.00,497.20 L607.10,497.20 L609.20,497.20 L611.30,497.20 L613.40,497.20 L615.50,497.20 L617.60,497.20 L619.70,497.20 L621.80,497.20 L623.90,497.20 L626.00,497.20 L628.10,497.20 L630.20,497.20 L632.30,497.20 L634.40,497.20 L636.50,497.20 L638.60,497.20 L640.70,497.20 L642.80,497.20 L644.90,497.20 L647.00,497.20 L649.10,497.20 L651.20,497.20 L653.30,497.20 L655.40,497.20 L657.50,497.20 L659.60,497.20 L661.70,497.20 L663.80,497.20 L665.90,497.20 L668.00,497.20 L670.10,497.20 L672.20,497.20 L674.30,497.20 L676.40,497.20 L678.50,497.20" fill="none" stroke="#00eeee" stroke-width="2.10" stroke-linejoin="round" clip-path="url(#c3)"/>
<path d="M48.50,658.60 L49.02,654.10 L49.55,649.38 L50.08,644.49 L50.60,639.48 L51.12,634.41 L51.65,629.31 L52.17,624.19 L52.70,618.95 L53.23,613.63 L53.75,608.27 L54.27,602.94 L54.80,597.68 L55.33,592.46 L55.85,587.28 L56.38,582.13 L56.90,577.07 L57.42,572.15 L57.95,567.42 L58.48,562.77 L59.00,558.26 L59.52,554.03 L60.05,550.17 L60.58,546.74 L61.10,543.67 L61.62,540.84 L62.15,538.12 L62.67,535.46 L63.20,532.88 L63.73,530.43 L64.25,528.12 L64.78,525.92 L65.30,523.79 L65.83,521.66 L66.35,519.54 L66.88,517.47 L67.40,515.52 L67.92,513.75 L68.45,512.18 L68.97,510.79 L69.50,509.58 L70.03,508.49 L70.55,507.50 L71.08,506.60 L71.60,505.77 L72.12,505.02 L72.65,504.34 L73.17,503.73 L73.70,503.16 L74.22,502.63 L74.75,502.13 L75.28,501.65 L75.80,501.19 L76.33,500.79 L76.85,500.44 L77.38,500.13 L77.90,499.86 L78.42,499.63 L78.95,499.43 L79.47,499.24 L80.00,499.08 L80.53,498.92 L81.05,498.77 L81.58,498.62 L82.10,498.47 L82.62,498.33 L83.15,498.21 L83.68,498.11 L84.20,498.02 L84.72,497.94 L85.25,497.86 L85.78,497.80 L86.30,497.74 L86.83,497.69 L87.35,497.64 L87.88,497.59 L88.40,497.55 L88.93,497.52 L89.45,497.49 L89.97,497.47 L90.50,497.45 L91.03,497.44 L91.55,497.43 L92.08,497.42 L92.60,497.41 L93.12,497.40 L93.65,497.39 L94.18,497.38 L94.70,497.38 L95.22,497.37 L95.75,497.36 L96.28,497.36 L96.80,497.35 L97.33,497.35 L97.85,497.35 L98.38,497.34 L98.90,497.34 L99.43,497.34 L99.95,497.33 L100.47,497.33" fill="none" stroke="#00eeee" stroke-width="2.10" stroke-linejoin="round" clip-path="url(#c3)"/>
<path d="M48.50,658.60 L49.02,654.19 L49.55,649.43 L50.08,644.41 L50.60,639.20 L51.12,633.86 L51.65,628.48 L52.17,623.03 L52.70,617.36 L53.23,611.54 L53.75,605.66 L54.27,599.80 L54.80,594.04 L55.33,588.32 L55.85,582.60 L56.38,576.96 L56.90,571.48 L57.42,566.20 L57.95,561.17 L58.48,556.15 L59.00,551.23 L59.52,546.67 L60.05,542.63 L60.58,539.22 L61.10,536.32 L61.62,533.71 L62.15,531.20 L62.67,528.67 L63.20,526.18 L63.73,523.79 L64.25,521.51 L64.78,519.35 L65.30,517.29 L65.83,515.29 L66.35,513.38 L66.88,511.63 L67.40,510.06 L67.92,508.69 L68.45,507.53 L68.97,506.54 L69.50,505.68 L70.03,504.91 L70.55,504.22 L71.08,503.59 L71.60,503.01 L72.12,502.49 L72.65,502.03 L73.17,501.60 L73.70,501.21 L74.22,500.84 L74.75,500.48 L75.28,500.13 L75.80,499.79 L76.33,499.49 L76.85,499.24 L77.38,499.01 L77.90,498.81 L78.42,498.63 L78.95,498.47 L79.47,498.32 L80.00,498.19 L80.53,498.07 L81.05,497.96 L81.58,497.87 L82.10,497.79 L82.62,497.71 L83.15,497.65 L83.68,497.59 L84.20,497.55 L84.72,497.51 L85.25,497.47 L85.78,497.44 L86.30,497.42 L86.83,497.40 L87.35,497.38 L87.88,497.36 L88.40,497.34 L88.93,497.32 L89.45,497.31 L89.97,497.30 L90.50,497.30 L91.03,497.30 L91.55,497.30 L92.08,497.30 L92.60,497.30 L93.12,497.30 L93.65,497.30 L94.18,497.30 L94.70,497.30 L95.22,497.30 L95.75,497.31 L96.28,497.32 L96.80,497.33 L97.33,497.34 L97.85,497.35 L98.38,497.36 L98.90,497.37 L99.43,497.38 L99.95,497.39 L100.47,497.40 L101.00,497.41 L101.53,497.43 L102.05,497.44 L102.58,497.45 L103.10,497.47 L103.62,497.48 L104.15,497.49 L104.68,497.51 L105.20,497.52 L105.72,497.53 L106.25,497.55 L106.78,497.56 L107.30,497.57 L107.83,497.59 L108.35,497.60 L108.88,497.62 L109.40,497.63 L109.93,497.64 L110.45,497.66 L110.97,497.67 L111.50,497.68 L113.60,497.73 L115.70,497.78 L117.80,497.78 L119.90,497.76 L122.00,497.75 L124.10,497.73 L126.20,497.71 L128.30,497.68 L130.40,497.64 L132.50,497.61 L134.60,497.57 L136.70,497.52 L138.80,497.48 L140.90,497.43 L143.00,497.38 L145.10,497.33 L147.20,497.27 L149.30,497.22 L151.40,497.16 L153.50,497.11 L155.60,497.06 L157.70,497.01 L159.80,496.96 L161.90,496.91 L164.00,496.87 L166.10,496.83 L168.20,496.79 L170.30,496.76 L172.40,496.73 L174.50,496.71 L176.60,496.69 L178.70,496.68 L180.80,496.67 L182.90,496.67 L185.00,496.67 L187.10,496.68 L189.20,496.69 L191.30,496.71 L193.40,496.73 L195.50,496.76 L197.60,496.79 L199.70,496.83 L201.80,496.87 L203.90,496.91 L206.00,496.96 L208.10,497.01 L210.20,497.06 L212.30,497.11 L214.40,497.16 L216.50,497.22 L218.60,497.27 L220.70,497.32 L222.80,497.37 L224.90,497.42 L227.00,497.47 L229.10,497.52 L231.20,497.56 L233.30,497.59 L235.40,497.63 L237.50,497.66 L239.60,497.68 L241.70,497.70 L243.80,497.72 L245.90,497.73 L248.00,497.73 L250.10,497.73 L252.20,497.73 L254.30,497.72 L256.40,497.70 L258.50,497.68 L260.60,497.65 L262.70,497.62 L264.80,497.59 L266.90,497.55 L269.00,497.51 L271.10,497.46 L273.20,497.42 L275.30,497.37 L277.40,497.31 L279.50,497.26 L281.60,497.21 L283.70,497.16 L285.80,497.10 L287.90,497.05 L290.00,497.00 L292.10,496.95 L294.20,496.91 L296.30,496.86 L298.40,496.82 L300.50,496.79 L302.60,496.76 L304.70,496.73 L306.80,496.71 L308.90,496.69 L311.00,496.68 L313.10,496.67 L315.20,496.67 L317.30,496.67 L319.40,496.68 L321.50,496.70 L323.60,496.71 L325.70,496.74 L327.80,496.77 L329.90,496.80 L332.00,496.84 L334.10,496.88 L336.20,496.92 L338.30,496.97 L340.40,497.02 L342.50,497.07 L344.60,497.12 L346.70,497.17 L348.80,497.23 L350.90,497.28 L353.00,497.33 L355.10,497.38 L357.20,497.43 L359.30,497.48 L361.40,497.52 L363.50,497.56 L365.60,497.60 L367.70,497.63 L369.80,497.66 L371.90,497.69 L374.00,497.71 L376.10,497.72 L378.20,497.73 L380.30,497.73 L382.40,497.73 L384.50,497.73 L386.60,497.71 L388.70,497.70 L390.80,497.68 L392.90,497.65 L395.00,497.62 L397.10,497.58 L399.20,497.54 L401.30,497.50 L403.40,497.45 L405.50,497.41 L407.60,497.36 L409.70,497.31 L411.80,497.25 L413.90,497.20 L416.00,497.15 L418.10,497.09 L420.20,497.04 L422.30,496.99 L424.40,496.94 L426.50,496.90 L428.60,496.86 L430.70,496.82 L432.80,496.78 L434.90,496.75 L437.00,496.73 L439.10,496.70 L441.20,496.69 L443.30,496.68 L445.40,496.67 L447.50,496.67 L449.60,496.67 L451.70,496.68 L453.80,496.70 L455.90,496.72 L458.00,496.74 L460.10,496.77 L462.20,496.81 L464.30,496.84 L466.40,496.88 L468.50,496.93 L470.60,496.98 L472.70,497.03 L474.80,497.08 L476.90,497.13 L479.00,497.18 L481.10,497.24 L483.20,497.29 L485.30,497.34 L487.40,497.39 L489.50,497.44 L491.60,497.49 L493.70,497.53 L495.80,497.57 L497.90,497.61 L500.00,497.64 L502.10,497.67 L504.20,497.69 L506.30,497.71 L508.40,497.72 L510.50,497.73 L512.60,497.73 L514.70,497.73 L516.80,497.72 L518.90,497.71 L521.00,497.69 L523.10,497.67 L525.20,497.64 L527.30,497.61 L529.40,497.58 L531.50,497.54 L533.60,497.49 L535.70,497.45 L537.80,497.40 L539.90,497.35 L542.00,497.30 L544.10,497.24 L546.20,497.19 L548.30,497.14 L550.40,497.08 L552.50,497.03 L554.60,496.98 L556.70,496.94 L558.80,496.89 L560.90,496.85 L563.00,496.81 L565.10,496.78 L567.20,496.75 L569.30,496.72 L571.40,496.70 L573.50,496.69 L575.60,496.67 L577.70,496.67 L579.80,496.67 L581.90,496.68 L584.00,496.69 L586.10,496.70 L588.20,496.72 L590.30,496.75 L592.40,496.78 L594.50,496.81 L596.60,496.85 L598.70,496.89 L600.80,496.94 L602.90,496.98 L605.00,497.03 L607.10,497.09 L609.20,497.14 L611.30,497.19 L613.40,497.24 L615.50,497.30 L617.60,497.35 L619.70,497.40 L621.80,497.45 L623.90,497.49 L626.00,497.54 L628.10,497.58 L630.20,497.61 L632.30,497.64 L634.40,497.67 L636.50,497.69 L638.60,497.71 L640.70,497.72 L642.80,497.73 L644.90,497.73 L647.00,497.73 L649.10,497.72 L651.20,497.71 L653.30,497.69 L655.40,497.67 L657.50,497.64 L659.60,497.61 L661.70,497.57 L663.80,497.53 L665.90,497.49 L668.00,497.44 L670.10,497.39 L672.20,497.34 L674.30,497.29 L676.40,497.23 L678.50,497.18" fill="none" stroke="#e60000" stroke-width="2.10" stroke-linejoin="round" clip-path="url(#c3)"/>
<path d="M48.50,497.20 L49.02,497.20 L49.55,497.20 L50.08,497.20 L50.60,497.20 L51.12,497.20 L51.65,497.20 L52.17,497.20 L52.70,497.20 L53.23,497.20 L53.75,497.20 L54.27,497.20 L54.80,497.20 L55.33,497.20 L55.85,497.20 L56.38,497.20 L56.90,497.20 L57.42,497.20 L57.95,497.20 L58.48,497.20 L59.00,497.20 L59.52,497.20 L60.05,497.20 L60.58,497.20 L61.10,497.20 L61.62,497.20 L62.15,497.20 L62.67,497.20 L63.20,497.20 L63.73,497.20 L64.25,497.20 L64.78,497.20 L65.30,497.20 L65.83,497.20 L66.35,497.20 L66.88,497.20 L67.40,497.20 L67.92,497.20 L68.45,497.20 L68.97,497.20 L69.50,497.20 L70.03,497.20 L70.55,497.20 L71.08,497.20 L71.60,497.20 L72.12,497.20 L72.65,497.20 L73.17,497.20 L73.70,497.20 L74.22,497.20 L74.75,497.20 L75.28,497.20 L75.80,497.20 L76.33,497.20 L76.85,497.20 L77.38,497.20 L77.90,497.20 L78.42,497.20 L78.95,497.20 L79.47,497.20 L80.00,497.20 L80.53,497.20 L81.05,497.20 L81.58,497.20 L82.10,497.20 L82.62,497.20 L83.15,497.20 L83.68,497.20 L84.20,497.20 L84.72,497.20 L85.25,497.20 L85.78,497.20 L86.30,497.20 L86.83,497.20 L87.35,497.20 L87.88,497.20 L88.40,497.20 L88.93,497.20 L89.45,497.20 L89.97,497.20 L90.50,497.20 L91.03,497.20 L91.55,497.20 L92.08,497.20 L92.60,497.20 L93.12,497.20 L93.65,497.20 L94.18,497.20 L94.70,497.20 L95.22,497.20 L95.75,497.20 L96.28,497.20 L96.80,497.20 L97.33,497.20 L97.85,497.20 L98.38,497.20 L98.90,497.20 L99.43,497.20 L99.95,497.20 L100.47,497.20 L101.00,497.20 L101.53,497.20 L102.05,497.20 L102.58,497.20 L103.10,497.20 L103.62,497.20 L104.15,497.20 L104.68,497.20 L105.20,497.20 L105.72,497.20 L106.25,497.20 L106.78,497.20 L107.30,497.20 L107.83,497.20 L108.35,497.20 L108.88,497.20 L109.40,497.20 L109.93,497.20 L110.45,497.20 L110.97,497.20 L111.50,497.20 L113.60,497.20 L115.70,497.20 L117.80,497.20 L119.90,497.20 L122.00,497.20 L124.10,497.20 L126.20,497.20 L128.30,497.20 L130.40,497.20 L132.50,497.20 L134.60,497.20 L136.70,497.20 L138.80,497.20 L140.90,497.20 L143.00,497.20 L145.10,497.20 L147.20,497.20 L149.30,497.20 L151.40,497.20 L153.50,497.20 L155.60,497.20 L157.70,497.20 L159.80,497.20 L161.90,497.20 L164.00,497.20 L166.10,497.20 L168.20,497.20 L170.30,497.20 L172.40,497.20 L174.50,497.20 L176.60,497.20 L178.70,497.20 L180.80,497.20 L182.90,497.20 L185.00,497.20 L187.10,497.20 L189.20,497.20 L191.30,497.20 L193.40,497.20 L195.50,497.20 L197.60,497.20 L199.70,497.20 L201.80,497.20 L203.90,497.20 L206.00,497.20 L208.10,497.20 L210.20,497.20 L212.30,497.20 L214.40,497.20 L216.50,497.20 L218.60,497.20 L220.70,497.20 L222.80,497.20 L224.90,497.20 L227.00,497.20 L229.10,497.20 L231.20,497.20 L233.30,497.20 L235.40,497.20 L237.50,497.20 L239.60,497.20 L241.70,497.20 L243.80,497.20 L245.90,497.20 L248.00,497.20 L250.10,497.20 L252.20,497.20 L254.30,497.20 L256.40,497.20 L258.50,497.20 L260.60,497.20 L262.70,497.20 L264.80,497.20 L266.90,497.20 L269.00,497.20 L271.10,497.20 L273.20,497.20 L275.30,497.20 L277.40,497.20 L279.50,497.20 L281.60,497.20 L283.70,497.20 L285.80,497.20 L287.90,497.20 L290.00,497.20 L292.10,497.20 L294.20,497.20 L296.30,497.20 L298.40,497.20 L300.50,497.20 L302.60,497.20 L304.70,497.20 L306.80,497.20 L308.90,497.20 L311.00,497.20 L313.10,497.20 L315.20,497.20 L317.30,497.20 L319.40,497.20 L321.50,497.20 L323.60,497.20 L325.70,497.20 L327.80,497.20 L329.90,497.20 L332.00,497.20 L334.10,497.20 L336.20,497.20 L338.30,497.20 L340.40,497.20 L342.50,497.20 L344.60,497.20 L346.70,497.20 L348.80,497.20 L350.90,497.20 L353.00,497.20 L355.10,497.20 L357.20,497.20 L359.30,497.20 L361.40,497.20 L363.50,497.20 L365.60,497.20 L367.70,497.20 L369.80,497.20 L371.90,497.20 L374.00,497.20 L376.10,497.20 L378.20,497.20 L380.30,497.20 L382.40,497.20 L384.50,497.20 L386.60,497.20 L388.70,497.20 L390.80,497.20 L392.90,497.20 L395.00,497.20 L397.10,497.20 L399.20,497.20 L401.30,497.20 L403.40,497.20 L405.50,497.20 L407.60,497.20 L409.70,497.20 L411.80,497.20 L413.90,497.20 L416.00,497.20 L418.10,497.20 L420.20,497.20 L422.30,497.20 L424.40,497.20 L426.50,497.20 L428.60,497.20 L430.70,497.20 L432.80,497.20 L434.90,497.20 L437.00,497.20 L439.10,497.20 L441.20,497.20 L443.30,497.20 L445.40,497.20 L447.50,497.20 L449.60,497.20 L451.70,497.20 L453.80,497.20 L455.90,497.20 L458.00,497.20 L460.10,497.20 L462.20,497.20 L464.30,497.20 L466.40,497.20 L468.50,497.20 L470.60,497.20 L472.70,497.20 L474.80,497.20 L476.90,497.20 L479.00,497.20 L481.10,497.20 L483.20,497.20 L485.30,497.20 L487.40,497.20 L489.50,497.20 L491.60,497.20 L493.70,497.20 L495.80,497.20 L497.90,497.20 L500.00,497.20 L502.10,497.20 L504.20,497.20 L506.30,497.20 L508.40,497.20 L510.50,497.20 L512.60,497.20 L514.70,497.20 L516.80,497.20 L518.90,497.20 L521.00,497.20 L523.10,497.20 L525.20,497.20 L527.30,497.20 L529.40,497.20 L531.50,497.20 L533.60,497.20 L535.70,497.20 L537.80,497.20 L539.90,497.20 L542.00,497.20 L544.10,497.20 L546.20,497.20 L548.30,497.20 L550.40,497.20 L552.50,497.20 L554.60,497.20 L556.70,497.20 L558.80,497.20 L560.90,497.20 L563.00,497.20 L565.10,497.20 L567.20,497.20 L569.30,497.20 L571.40,497.20 L573.50,497.20 L575.60,497.20 L577.70,497.20 L579.80,497.20 L581.90,497.20 L584.00,497.20 L586.10,497.20 L588.20,497.20 L590.30,497.20 L592.40,497.20 L594.50,497.20 L596.60,497.20 L598.70,497.20 L600.80,497.20 L602.90,497.20 L605.00,497.20 L607.10,497.20 L609.20,497.20 L611.30,497.20 L613.40,497.20 L615.50,497.20 L617.60,497.20 L619.70,497.20 L621.80,497.20 L623.90,497.20 L626.00,497.20 L628.10,497.20 L630.20,497.20 L632.30,497.20 L634.40,497.20 L636.50,497.20 L638.60,497.20 L640.70,497.20 L642.80,497.20 L644.90,497.20 L647.00,497.20 L649.10,497.20 L651.20,497.20 L653.30,497.20 L655.40,497.20 L657.50,497.20 L659.60,497.20 L661.70,497.20 L663.80,497.20 L665.90,497.20 L668.00,497.20 L670.10,497.20 L672.20,497.20 L674.30,497.20 L676.40,497.20 L678.50,497.20" fill="none" stroke="#0000e6" stroke-width="2.10" stroke-linejoin="round" clip-path="url(#c3)" stroke-dasharray="9 7.5"/>
<text class="tk" x="48.50" y="675.90" text-anchor="middle" font-size="13.5">0</text>
<text class="tk" x="153.50" y="675.90" text-anchor="middle" font-size="13.5">5</text>
<text class="tk" x="258.50" y="675.90" text-anchor="middle" font-size="13.5">10</text>
<text class="tk" x="363.50" y="675.90" text-anchor="middle" font-size="13.5">15</text>
<text class="tk" x="468.50" y="675.90" text-anchor="middle" font-size="13.5">20</text>
<text class="tk" x="573.50" y="675.90" text-anchor="middle" font-size="13.5">25</text>
<text class="tk" x="678.50" y="675.90" text-anchor="middle" font-size="13.5">30</text>
<text class="tk" x="44.10" y="663.50" text-anchor="end" font-size="13.5">0</text>
<text class="tk" x="44.10" y="631.22" text-anchor="end" font-size="13.5">0.2</text>
<text class="tk" x="44.10" y="598.94" text-anchor="end" font-size="13.5">0.4</text>
<text class="tk" x="44.10" y="566.66" text-anchor="end" font-size="13.5">0.6</text>
<text class="tk" x="44.10" y="534.38" text-anchor="end" font-size="13.5">0.8</text>
<text class="tk" x="44.10" y="502.10" text-anchor="end" font-size="13.5">1</text>
<text class="ax" x="363.50" y="695.00" text-anchor="middle">Time(s)</text>
<text class="ax" style="font-size:17.4px" transform="translate(13.90,569.60) rotate(-90)" text-anchor="middle">z(m)</text>
<rect x="68.70" y="485.40" width="26.80" height="28.90" fill="none" stroke="#333" stroke-width="1"/>
<line x1="95.90" y1="513.60" x2="161.53" y2="550.78" stroke="#1a1a1a" stroke-width="0.9"/>
<path d="M171.10,556.20 L155.24,553.77 L161.53,550.78 L160.86,543.85 Z" fill="#000"/>
<clipPath id="i3"><rect x="214.40" y="512.00" width="129.50" height="82.80"/></clipPath>
<rect x="214.90" y="512.50" width="128.50" height="81.80" fill="#fff"/>
<line x1="223.30" y1="594.30" x2="223.30" y2="512.50" stroke="#e2e2e2" stroke-width="0.8" stroke-dasharray="3.2 2.46"/>
<line x1="297.90" y1="594.30" x2="297.90" y2="512.50" stroke="#e2e2e2" stroke-width="0.8" stroke-dasharray="3.2 2.46"/>
<line x1="214.90" y1="565.30" x2="343.40" y2="565.30" stroke="#e2e2e2" stroke-width="0.8" stroke-dasharray="3.2 2.46"/>
<line x1="214.90" y1="536.30" x2="343.40" y2="536.30" stroke="#e2e2e2" stroke-width="0.8" stroke-dasharray="3.2 2.46"/>
<rect x="214.90" y="512.50" width="128.50" height="81.80" fill="none" stroke="#484848" stroke-width="1.00"/>
<line x1="223.30" y1="594.30" x2="223.30" y2="592.30" stroke="#484848" stroke-width="1"/>
<line x1="223.30" y1="512.50" x2="223.30" y2="514.50" stroke="#484848" stroke-width="1"/>
<line x1="297.90" y1="594.30" x2="297.90" y2="592.30" stroke="#484848" stroke-width="1"/>
<line x1="297.90" y1="512.50" x2="297.90" y2="514.50" stroke="#484848" stroke-width="1"/>
<line x1="214.90" y1="594.30" x2="216.90" y2="594.30" stroke="#484848" stroke-width="1"/>
<line x1="343.40" y1="594.30" x2="341.40" y2="594.30" stroke="#484848" stroke-width="1"/>
<line x1="214.90" y1="565.30" x2="216.90" y2="565.30" stroke="#484848" stroke-width="1"/>
<line x1="343.40" y1="565.30" x2="341.40" y2="565.30" stroke="#484848" stroke-width="1"/>
<line x1="214.90" y1="536.30" x2="216.90" y2="536.30" stroke="#484848" stroke-width="1"/>
<line x1="343.40" y1="536.30" x2="341.40" y2="536.30" stroke="#484848" stroke-width="1"/>
<path d="M214.15,1043.75 L215.61,1010.51 L217.08,978.13 L218.54,947.21 L220.00,918.20 L221.46,891.41 L222.92,867.06 L224.38,844.88 L225.84,823.98 L227.30,804.33 L228.76,785.93 L230.22,768.78 L231.68,752.84 L233.14,738.08 L234.60,724.45 L236.06,711.91 L237.52,700.40 L238.98,689.88 L240.44,680.07 L241.91,670.82 L243.37,662.15 L244.83,654.10 L246.29,646.66 L247.75,639.84 L249.21,633.64 L250.67,628.03 L252.13,622.99 L253.59,618.52 L255.05,614.59 L256.51,611.25 L257.97,608.35 L259.43,605.72 L260.89,603.23 L262.35,600.77 L263.81,598.22 L265.27,595.52 L266.74,592.57 L268.20,589.38 L269.66,586.10 L271.12,582.88 L272.58,579.84 L274.04,577.05 L275.50,574.45 L276.96,571.99 L278.42,569.66 L279.88,567.47 L281.34,565.42 L282.80,563.51 L284.26,561.71 L285.72,560.01 L287.18,558.43 L288.64,556.95 L290.10,555.58 L291.56,554.31 L293.03,553.12 L294.49,552.01 L295.95,550.98 L297.41,550.03 L298.87,549.16 L300.33,548.38 L301.79,547.66 L303.25,546.99 L304.71,546.37 L306.17,545.82 L307.63,545.33 L309.09,544.92 L310.55,544.55 L312.01,544.22 L313.47,543.92 L314.93,543.65 L316.39,543.42 L317.86,543.22 L319.32,543.04 L320.78,542.89 L322.24,542.76 L323.70,542.63 L325.16,542.51 L326.62,542.39 L328.08,542.27 L329.54,542.14 L331.00,542.00 L332.46,541.86 L333.92,541.72 L335.38,541.58 L336.84,541.43 L338.30,541.29 L339.76,541.15 L341.22,541.01 L342.69,540.87 L344.15,540.73" fill="none" stroke="#00ee00" stroke-width="2.10" stroke-linejoin="round" clip-path="url(#i3)"/>
<path d="M214.15,1043.75 L215.61,1010.51 L217.08,978.13 L218.54,947.21 L220.00,918.20 L221.46,891.41 L222.92,867.06 L224.38,844.93 L225.84,824.23 L227.30,804.86 L228.76,786.74 L230.22,769.81 L231.68,754.01 L233.14,739.29 L234.60,725.57 L236.06,712.79 L237.52,700.91 L238.98,689.87 L240.44,679.36 L241.91,669.25 L243.37,659.68 L244.83,650.75 L246.29,642.52 L247.75,635.04 L249.21,628.31 L250.67,622.35 L252.13,617.13 L253.59,612.64 L255.05,608.87 L256.51,605.77 L257.97,603.11 L259.43,600.69 L260.89,598.32 L262.35,595.85 L263.81,593.17 L265.27,590.39 L266.74,587.59 L268.20,584.81 L269.66,582.08 L271.12,579.44 L272.58,576.91 L274.04,574.49 L275.50,572.13 L276.96,569.82 L278.42,567.60 L279.88,565.51 L281.34,563.57 L282.80,561.79 L284.26,560.13 L285.72,558.55 L287.18,557.09 L288.64,555.75 L290.10,554.55 L291.56,553.49 L293.03,552.52 L294.49,551.64 L295.95,550.83 L297.41,550.10 L298.87,549.44 L300.33,548.84 L301.79,548.28 L303.25,547.74 L304.71,547.25 L306.17,546.83 L307.63,546.48 L309.09,546.23 L310.55,546.01 L312.01,545.81 L313.47,545.64 L314.93,545.51 L316.39,545.43 L317.86,545.41 L319.32,545.41 L320.78,545.41 L322.24,545.41 L323.70,545.41 L325.16,545.41 L326.62,545.41 L328.08,545.41 L329.54,545.41 L331.00,545.42 L332.46,545.46 L333.92,545.52 L335.38,545.60 L336.84,545.69 L338.30,545.77 L339.76,545.83 L341.22,545.87 L342.69,545.87 L344.15,545.85" fill="none" stroke="#ee00ee" stroke-width="2.10" stroke-linejoin="round" clip-path="url(#i3)"/>
<path d="M214.15,1043.75 L215.61,1010.51 L217.08,978.13 L218.54,947.21 L220.00,918.20 L221.46,891.41 L222.92,867.06 L224.38,844.92 L225.84,824.17 L227.30,804.73 L228.76,786.54 L230.22,769.55 L231.68,753.72 L233.14,738.99 L234.60,725.29 L236.06,712.57 L237.52,700.79 L238.98,689.87 L240.44,679.53 L241.91,669.62 L243.37,660.26 L244.83,651.53 L246.29,643.49 L247.75,636.16 L249.21,629.56 L250.67,623.69 L252.13,618.54 L253.59,614.09 L255.05,610.32 L256.51,607.24 L257.97,604.61 L259.43,602.23 L260.89,599.92 L262.35,597.51 L263.81,594.87 L265.27,591.91 L266.74,588.74 L268.20,585.48 L269.66,582.25 L271.12,579.15 L272.58,576.25 L274.04,573.59 L275.50,571.11 L276.96,568.76 L278.42,566.54 L279.88,564.44 L281.34,562.47 L282.80,560.62 L284.26,558.85 L285.72,557.18 L287.18,555.62 L288.64,554.18 L290.10,552.89 L291.56,551.73 L293.03,550.70 L294.49,549.77 L295.95,548.91 L297.41,548.12 L298.87,547.36 L300.33,546.65 L301.79,545.97 L303.25,545.33 L304.71,544.73 L306.17,544.17 L307.63,543.65 L309.09,543.16 L310.55,542.68 L312.01,542.22 L313.47,541.80 L314.93,541.43 L316.39,541.13 L317.86,540.89 L319.32,540.70 L320.78,540.54 L322.24,540.40 L323.70,540.27 L325.16,540.16 L326.62,540.04 L328.08,539.93 L329.54,539.82 L331.00,539.70 L332.46,539.58 L333.92,539.47 L335.38,539.35 L336.84,539.25 L338.30,539.14 L339.76,539.05 L341.22,538.95 L342.69,538.86 L344.15,538.78" fill="none" stroke="#00eeee" stroke-width="2.10" stroke-linejoin="round" clip-path="url(#i3)"/>
<path d="M214.15,792.66 L215.61,770.54 L217.08,750.64 L218.54,733.02 L220.00,717.62 L221.46,703.95 L222.92,691.62 L224.38,680.42 L225.84,670.15 L227.30,660.68 L228.76,651.87 L230.22,643.62 L231.68,635.93 L233.14,628.95 L234.60,622.55 L236.06,616.59 L237.52,610.98 L238.98,605.62 L240.44,600.46 L241.91,595.46 L243.37,590.50 L244.83,585.60 L246.29,581.02 L247.75,576.95 L249.21,573.35 L250.67,570.09 L252.13,567.13 L253.59,564.42 L255.05,561.92 L256.51,559.60 L257.97,557.46 L259.43,555.50 L260.89,553.70 L262.35,552.05 L263.81,550.55 L265.27,549.17 L266.74,547.89 L268.20,546.71 L269.66,545.65 L271.12,544.70 L272.58,543.87 L274.04,543.15 L275.50,542.52 L276.96,541.96 L278.42,541.47 L279.88,541.03 L281.34,540.64 L282.80,540.30 L284.26,539.97 L285.72,539.66 L287.18,539.36 L288.64,539.08 L290.10,538.84 L291.56,538.62 L293.03,538.44 L294.49,538.30 L295.95,538.18 L297.41,538.10 L298.87,538.05 L300.33,538.04 L301.79,538.04 L303.25,538.04 L304.71,538.04 L306.17,538.04 L307.63,538.04 L309.09,538.04 L310.55,538.04 L312.01,538.04 L313.47,538.08 L314.93,538.18 L316.39,538.28 L317.86,538.39 L319.32,538.51 L320.78,538.63 L322.24,538.76 L323.70,538.89 L325.16,539.03 L326.62,539.18 L328.08,539.33 L329.54,539.48 L331.00,539.64 L332.46,539.80 L333.92,539.97 L335.38,540.15 L336.84,540.32 L338.30,540.50 L339.76,540.69 L341.22,540.88 L342.69,541.07 L344.15,541.26" fill="none" stroke="#e60000" stroke-width="2.10" stroke-linejoin="round" clip-path="url(#i3)"/>
<path d="M214.15,536.30 L215.61,536.30 L217.08,536.30 L218.54,536.30 L220.00,536.30 L221.46,536.30 L222.92,536.30 L224.38,536.30 L225.84,536.30 L227.30,536.30 L228.76,536.30 L230.22,536.30 L231.68,536.30 L233.14,536.30 L234.60,536.30 L236.06,536.30 L237.52,536.30 L238.98,536.30 L240.44,536.30 L241.91,536.30 L243.37,536.30 L244.83,536.30 L246.29,536.30 L247.75,536.30 L249.21,536.30 L250.67,536.30 L252.13,536.30 L253.59,536.30 L255.05,536.30 L256.51,536.30 L257.97,536.30 L259.43,536.30 L260.89,536.30 L262.35,536.30 L263.81,536.30 L265.27,536.30 L266.74,536.30 L268.20,536.30 L269.66,536.30 L271.12,536.30 L272.58,536.30 L274.04,536.30 L275.50,536.30 L276.96,536.30 L278.42,536.30 L279.88,536.30 L281.34,536.30 L282.80,536.30 L284.26,536.30 L285.72,536.30 L287.18,536.30 L288.64,536.30 L290.10,536.30 L291.56,536.30 L293.03,536.30 L294.49,536.30 L295.95,536.30 L297.41,536.30 L298.87,536.30 L300.33,536.30 L301.79,536.30 L303.25,536.30 L304.71,536.30 L306.17,536.30 L307.63,536.30 L309.09,536.30 L310.55,536.30 L312.01,536.30 L313.47,536.30 L314.93,536.30 L316.39,536.30 L317.86,536.30 L319.32,536.30 L320.78,536.30 L322.24,536.30 L323.70,536.30 L325.16,536.30 L326.62,536.30 L328.08,536.30 L329.54,536.30 L331.00,536.30 L332.46,536.30 L333.92,536.30 L335.38,536.30 L336.84,536.30 L338.30,536.30 L339.76,536.30 L341.22,536.30 L342.69,536.30 L344.15,536.30" fill="none" stroke="#0000e6" stroke-width="2.10" stroke-linejoin="round" clip-path="url(#i3)" stroke-dasharray="9 7.5"/>
<text class="tk" x="223.30" y="611.70" text-anchor="middle" font-size="13.5">1</text>
<text class="tk" x="297.90" y="611.70" text-anchor="middle" font-size="13.5">2</text>
<text class="tk" x="210.50" y="599.20" text-anchor="end" font-size="13.5">0.98</text>
<text class="tk" x="210.50" y="570.20" text-anchor="end" font-size="13.5">0.99</text>
<text class="tk" x="210.50" y="541.20" text-anchor="end" font-size="13.5">1</text>
<rect x="541.30" y="524.90" width="121.50" height="81.70" fill="#fff" stroke="#545454" stroke-width="1"/>
<line x1="546.30" y1="534.90" x2="590.00" y2="534.90" stroke="#0000e6" stroke-width="1.90" stroke-dasharray="9 8"/>
<text class="lg" x="593.80" y="539.60">Reference</text>
<line x1="546.30" y1="550.30" x2="590.00" y2="550.30" stroke="#00ee00" stroke-width="1.90"/>
<text class="lg" x="593.80" y="555.00">Controller 1</text>
<line x1="546.30" y1="565.70" x2="590.00" y2="565.70" stroke="#ee00ee" stroke-width="1.90"/>
<text class="lg" x="593.80" y="570.40">Controller 2</text>
<line x1="546.30" y1="581.20" x2="590.00" y2="581.20" stroke="#00eeee" stroke-width="1.90"/>
<text class="lg" x="593.80" y="585.90">Controller 3</text>
<line x1="546.30" y1="596.50" x2="590.00" y2="596.50" stroke="#e60000" stroke-width="1.90"/>
<text class="lg" x="593.80" y="601.20">Controller 4</text>
</svg>
</body></html>
